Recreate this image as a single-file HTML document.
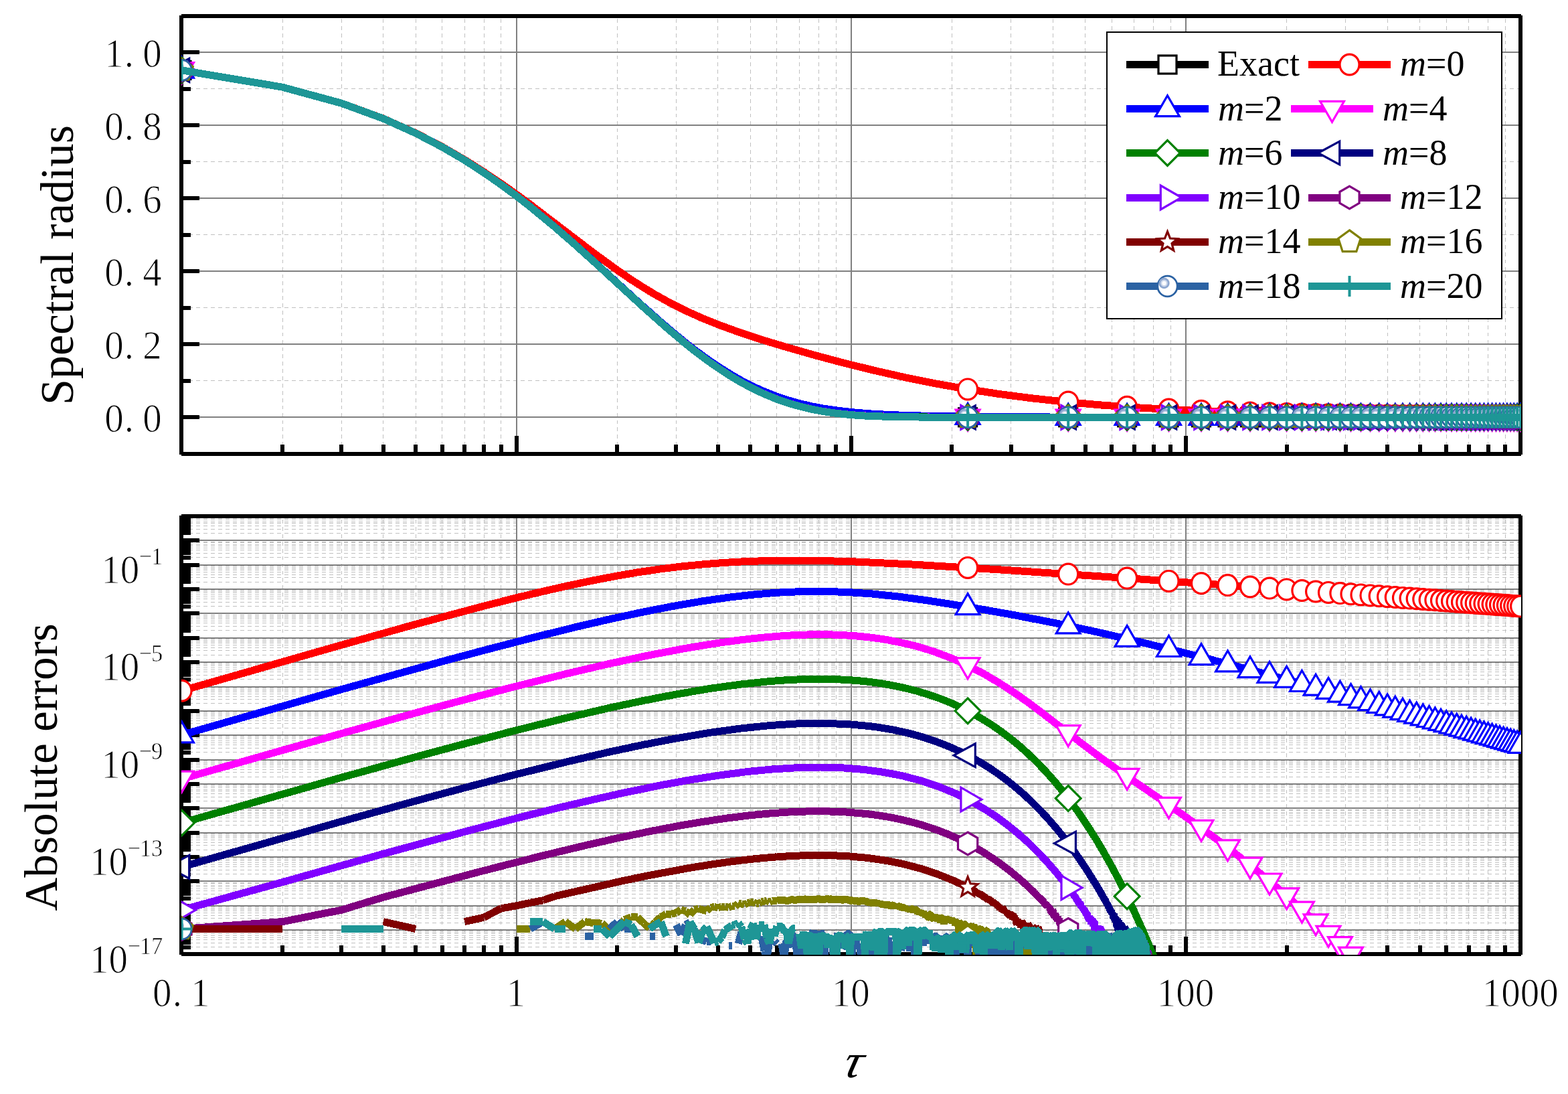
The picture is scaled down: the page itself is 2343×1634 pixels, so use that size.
<!DOCTYPE html>
<html lang="en"><head><meta charset="utf-8"><title>Spectral radius and absolute errors</title>
<style>html,body{margin:0;padding:0;background:#fff}body{width:2343px;height:1634px;overflow:hidden}svg{display:block}text{font-family:"Liberation Serif","DejaVu Serif",serif;fill:#000}.it{font-style:italic}</style></head><body>
<svg width="2343" height="1634" viewBox="0 0 2343 1634">
<rect width="2343" height="1634" fill="#fff"/>
<defs>
<clipPath id="c1"><rect x="271" y="24" width="2002" height="655"/></clipPath>
<clipPath id="c2"><rect x="271" y="771" width="2002" height="655"/></clipPath>
<g id="kex"><rect x="-13.5" y="-13.5" width="27" height="27" fill="#fff" stroke="#000000" stroke-width="3.2" stroke-linejoin="miter"/></g>
<g id="k0"><ellipse rx="14.5" ry="15.4" fill="#fff" stroke="#ff0000" stroke-width="3.2" stroke-linejoin="miter"/></g>
<g id="k2"><path d="M0 -19.8L17.9 11.2L-17.9 11.2Z" fill="#fff" stroke="#0000ff" stroke-width="3.2" stroke-linejoin="miter"/></g>
<g id="k4"><path d="M0 19.8L17.9 -11.2L-17.9 -11.2Z" fill="#fff" stroke="#ff00ff" stroke-width="3.2" stroke-linejoin="miter"/></g>
<g id="k6"><path d="M0 -18.9L18.9 0L0 18.9L-18.9 0Z" fill="#fff" stroke="#008000" stroke-width="3.2" stroke-linejoin="miter"/></g>
<g id="k8"><path d="M-20.8 0L11.2 -17.4L11.2 17.4Z" fill="#fff" stroke="#000080" stroke-width="3.2" stroke-linejoin="miter"/></g>
<g id="k10"><path d="M20.8 0L-10.2 -17.9L-10.2 17.9Z" fill="#fff" stroke="#8000ff" stroke-width="3.2" stroke-linejoin="miter"/></g>
<g id="k12"><path d="M0 -16.9L14.6 -8.4L14.6 8.4L0 16.9L-14.6 8.4L-14.6 -8.5Z" fill="#fff" stroke="#800080" stroke-width="3.2" stroke-linejoin="miter"/></g>
<g id="k14"><path d="M0 -15.6L4 -5.5L14.8 -4.8L6.5 2.1L9.2 12.6L0 6.8L-9.2 12.6L-6.5 2.1L-14.8 -4.8L-4 -5.5Z" fill="#fff" stroke="#800000" stroke-width="3.2" stroke-linejoin="miter"/></g>
<g id="k16"><path d="M0 -17.6L16.7 -5.4L10.3 14.2L-10.3 14.2L-16.7 -5.4Z" fill="#fff" stroke="#808000" stroke-width="3.2" stroke-linejoin="miter"/></g>
<g id="k18"><ellipse rx="14.7" ry="15.4" fill="#fff" stroke="#2b62a3" stroke-width="2.8"/><circle cx="-5" cy="-4.5" r="8.2" fill="#8da7d0"/><circle cx="-5" cy="-4.5" r="5.4" fill="#c9d5ea"/><circle cx="-5" cy="-4.5" r="3.2" fill="#fbfcfe"/></g>
<g id="k20"><path d="M-15.5 0H15.5M0 -15.5V15.5" fill="none" stroke="#1e9696" stroke-width="4"/></g>
</defs>
<g shape-rendering="crispEdges"><path d="M422.5 676.8V24M510.5 676.8V24M572.5 676.8V24M621.5 676.8V24M660.5 676.8V24M694.5 676.8V24M723.5 676.8V24M748.5 676.8V24M922.5 676.8V24M1010.5 676.8V24M1072.5 676.8V24M1121.5 676.8V24M1160.5 676.8V24M1194.5 676.8V24M1223.5 676.8V24M1249.5 676.8V24M1422.5 676.8V24M1510.5 676.8V24M1573.5 676.8V24M1621.5 676.8V24M1661.5 676.8V24M1694.5 676.8V24M1723.5 676.8V24M1749.5 676.8V24M1922.5 676.8V24M2010.5 676.8V24M2073.5 676.8V24M2121.5 676.8V24M2161.5 676.8V24M2194.5 676.8V24M2223.5 676.8V24M2249.5 676.8V24" stroke="#c0c0c0" stroke-width="1" stroke-dasharray="5.7 5.2" fill="none"/><path d="M271 568.5H2272M271 459.5H2272M271 350.5H2272M271 241.5H2272M271 132.5H2272" stroke="#c0c0c0" stroke-width="1" stroke-dasharray="6 5.03" fill="none"/><path d="M772 24V678M1272 24V678M1772 24V678M271 623H2272M271 514H2272M271 405H2272M271 296H2272M271 187H2272M271 78H2272" stroke="#808080" stroke-width="2" fill="none"/></g>
<path d="M271.0 24.0H2273.0M271.0 678.0H2273.0M271.0 23.0V679.0M2272.0 23.0V679.0M422 678v-14M510 678v-14M573 678v-14M621 678v-14M661 678v-14M694 678v-14M723 678v-14M749 678v-14M772 678v-27M922 678v-14M1010 678v-14M1073 678v-14M1121 678v-14M1161 678v-14M1194 678v-14M1223 678v-14M1249 678v-14M1272 678v-27M1422 678v-14M1511 678v-14M1573 678v-14M1622 678v-14M1661 678v-14M1695 678v-14M1724 678v-14M1749 678v-14M1772 678v-27M1923 678v-14M2011 678v-14M2073 678v-14M2122 678v-14M2161 678v-14M2195 678v-14M2224 678v-14M2249 678v-14M271 623h27M271 514h27M271 405h27M271 296h27M271 187h27M271 78h27M271 569h14M271 460h14M271 351h14M271 242h14M271 133h14" stroke="#000" stroke-width="6" fill="none" shape-rendering="crispEdges"/>
<g clip-path="url(#c1)">
<path d="M271.5 104.9L422.1 130.2L510.2 154.2L572.7 177.1L621.1 198.9L660.7 219.6L694.2 239.2L723.2 258L748.8 275.8L771.7 292.7L792.4 308.9L828.7 338.8L859.8 365.9L887 390.4L961.9 459.1L995.4 488.9L1024.4 513.3L1037.5 523.7L1055.9 537.6L1072.9 549.5L1093.6 562.9L1107.9 571.3L1125.6 580.7L1142 588.5L1160.9 596.2L1178.3 602.2L1197.5 607.6L1212.3 611.1L1228.8 614.3L1246.6 616.9L1263 618.8L1280.4 620.3L1300.4 621.5L1348.1 622.9L1442.2 623.3L2272.3 623.3" fill="none" stroke="#000000" stroke-width="11" stroke-linejoin="round" shape-rendering="crispEdges"/>
<use href="#kex" x="271.5" y="104.9"/>
<use href="#kex" x="1446.1" y="623.3"/>
<use href="#kex" x="1596.2" y="623.3"/>
<use href="#kex" x="1684.1" y="623.3"/>
<use href="#kex" x="1746.5" y="623.3"/>
<use href="#kex" x="1795" y="623.3"/>
<use href="#kex" x="1834.5" y="623.3"/>
<use href="#kex" x="1868" y="623.3"/>
<use href="#kex" x="1897" y="623.3"/>
<use href="#kex" x="1922.6" y="623.3"/>
<use href="#kex" x="1945.4" y="623.3"/>
<use href="#kex" x="1966.1" y="623.3"/>
<use href="#kex" x="1985" y="623.3"/>
<use href="#kex" x="2002.4" y="623.3"/>
<use href="#kex" x="2018.5" y="623.3"/>
<use href="#kex" x="2033.5" y="623.3"/>
<use href="#kex" x="2047.5" y="623.3"/>
<use href="#kex" x="2060.7" y="623.3"/>
<use href="#kex" x="2073.1" y="623.3"/>
<use href="#kex" x="2084.8" y="623.3"/>
<use href="#kex" x="2096" y="623.3"/>
<use href="#kex" x="2106.6" y="623.3"/>
<use href="#kex" x="2116.7" y="623.3"/>
<use href="#kex" x="2126.3" y="623.3"/>
<use href="#kex" x="2135.6" y="623.3"/>
<use href="#kex" x="2144.4" y="623.3"/>
<use href="#kex" x="2153" y="623.3"/>
<use href="#kex" x="2161.2" y="623.3"/>
<use href="#kex" x="2169" y="623.3"/>
<use href="#kex" x="2176.7" y="623.3"/>
<use href="#kex" x="2184" y="623.3"/>
<use href="#kex" x="2191.2" y="623.3"/>
<use href="#kex" x="2198.1" y="623.3"/>
<use href="#kex" x="2204.7" y="623.3"/>
<use href="#kex" x="2211.2" y="623.3"/>
<use href="#kex" x="2217.5" y="623.3"/>
<use href="#kex" x="2223.6" y="623.3"/>
<use href="#kex" x="2229.6" y="623.3"/>
<use href="#kex" x="2235.4" y="623.3"/>
<use href="#kex" x="2241" y="623.3"/>
<use href="#kex" x="2246.5" y="623.3"/>
<use href="#kex" x="2251.9" y="623.3"/>
<use href="#kex" x="2257.1" y="623.3"/>
<use href="#kex" x="2262.2" y="623.3"/>
<use href="#kex" x="2267.2" y="623.3"/>
<use href="#kex" x="2272.1" y="623.3"/>
<path d="M271.5 104.9L422.1 130.2L510.2 154.2L572.7 177L621.1 198.7L660.7 219.2L694.2 238.6L723.2 256.9L748.8 274.1L771.7 290.3L792.4 305.5L887 377.7L922.3 403.4L943 417.6L961.9 429.7L979.3 440.2L1003 453.3L1024.4 464L1050 475.5L1072.9 484.7L1103.2 495.8L1138 507.3L1175 518.5L1215.1 529.9L1258.5 541.5L1307.9 553.7L1354.1 564.1L1399.6 573.2L1445.1 581.2L1492.4 588.4L1540.9 594.7L1591.3 600.2L1644.2 604.9L1699.5 608.8L1758.7 612.1L1822.8 614.9L1892.9 617.2L1969.9 619L2056.7 620.4L2155.8 621.4L2272.3 622.2" fill="none" stroke="#ff0000" stroke-width="11" stroke-linejoin="round" shape-rendering="crispEdges"/>
<use href="#k0" x="271.5" y="104.9"/>
<use href="#k0" x="1446.1" y="581.4"/>
<use href="#k0" x="1596.2" y="600.6"/>
<use href="#k0" x="1684.1" y="607.8"/>
<use href="#k0" x="1746.5" y="611.5"/>
<use href="#k0" x="1795" y="613.8"/>
<use href="#k0" x="1834.5" y="615.3"/>
<use href="#k0" x="1868" y="616.4"/>
<use href="#k0" x="1897" y="617.3"/>
<use href="#k0" x="1922.6" y="617.9"/>
<use href="#k0" x="1945.4" y="618.5"/>
<use href="#k0" x="1966.1" y="618.9"/>
<use href="#k0" x="1985" y="619.3"/>
<use href="#k0" x="2002.4" y="619.6"/>
<use href="#k0" x="2018.5" y="619.8"/>
<use href="#k0" x="2033.5" y="620.1"/>
<use href="#k0" x="2047.5" y="620.3"/>
<use href="#k0" x="2060.7" y="620.4"/>
<use href="#k0" x="2073.1" y="620.6"/>
<use href="#k0" x="2084.8" y="620.7"/>
<use href="#k0" x="2096" y="620.9"/>
<use href="#k0" x="2106.6" y="621"/>
<use href="#k0" x="2116.7" y="621.1"/>
<use href="#k0" x="2126.3" y="621.2"/>
<use href="#k0" x="2135.6" y="621.3"/>
<use href="#k0" x="2144.4" y="621.3"/>
<use href="#k0" x="2153" y="621.4"/>
<use href="#k0" x="2161.2" y="621.5"/>
<use href="#k0" x="2169" y="621.6"/>
<use href="#k0" x="2176.7" y="621.6"/>
<use href="#k0" x="2184" y="621.7"/>
<use href="#k0" x="2191.2" y="621.7"/>
<use href="#k0" x="2198.1" y="621.8"/>
<use href="#k0" x="2204.7" y="621.8"/>
<use href="#k0" x="2211.2" y="621.9"/>
<use href="#k0" x="2217.5" y="621.9"/>
<use href="#k0" x="2223.6" y="621.9"/>
<use href="#k0" x="2229.6" y="622"/>
<use href="#k0" x="2235.4" y="622"/>
<use href="#k0" x="2241" y="622"/>
<use href="#k0" x="2246.5" y="622.1"/>
<use href="#k0" x="2251.9" y="622.1"/>
<use href="#k0" x="2257.1" y="622.1"/>
<use href="#k0" x="2262.2" y="622.2"/>
<use href="#k0" x="2267.2" y="622.2"/>
<use href="#k0" x="2272.1" y="622.2"/>
<path d="M271.5 104.9L422.1 130.2L510.2 154.2L572.7 177.1L621.1 198.9L660.7 219.5L694.2 239.2L723.2 258L748.8 275.8L771.7 292.7L792.4 308.8L828.7 338.7L859.8 365.7L887 390.1L952.6 450.2L987.5 481.1L1003 494.4L1024.4 511.9L1037.5 522.2L1055.9 535.7L1072.9 547.3L1093.6 560.3L1107.9 568.4L1125.6 577.5L1142 584.8L1160.9 592.2L1178.3 598L1194.4 602.5L1212.3 606.7L1231.4 610.3L1253.8 613.5L1276.2 616L1300.4 617.9L1327.2 619.4L1358.5 620.6L1397.2 621.5L1484.4 622.6L1606.7 623.2L2272.3 623.3" fill="none" stroke="#0000ff" stroke-width="11" stroke-linejoin="round" shape-rendering="crispEdges"/>
<use href="#k2" x="271.5" y="104.9"/>
<use href="#k2" x="1446.1" y="622.3"/>
<use href="#k2" x="1596.2" y="623.1"/>
<use href="#k2" x="1684.1" y="623.3"/>
<use href="#k2" x="1746.5" y="623.3"/>
<use href="#k2" x="1795" y="623.3"/>
<use href="#k2" x="1834.5" y="623.3"/>
<use href="#k2" x="1868" y="623.3"/>
<use href="#k2" x="1897" y="623.3"/>
<use href="#k2" x="1922.6" y="623.3"/>
<use href="#k2" x="1945.4" y="623.3"/>
<use href="#k2" x="1966.1" y="623.3"/>
<use href="#k2" x="1985" y="623.3"/>
<use href="#k2" x="2002.4" y="623.3"/>
<use href="#k2" x="2018.5" y="623.3"/>
<use href="#k2" x="2033.5" y="623.3"/>
<use href="#k2" x="2047.5" y="623.3"/>
<use href="#k2" x="2060.7" y="623.3"/>
<use href="#k2" x="2073.1" y="623.3"/>
<use href="#k2" x="2084.8" y="623.3"/>
<use href="#k2" x="2096" y="623.3"/>
<use href="#k2" x="2106.6" y="623.3"/>
<use href="#k2" x="2116.7" y="623.3"/>
<use href="#k2" x="2126.3" y="623.3"/>
<use href="#k2" x="2135.6" y="623.3"/>
<use href="#k2" x="2144.4" y="623.3"/>
<use href="#k2" x="2153" y="623.3"/>
<use href="#k2" x="2161.2" y="623.3"/>
<use href="#k2" x="2169" y="623.3"/>
<use href="#k2" x="2176.7" y="623.3"/>
<use href="#k2" x="2184" y="623.3"/>
<use href="#k2" x="2191.2" y="623.3"/>
<use href="#k2" x="2198.1" y="623.3"/>
<use href="#k2" x="2204.7" y="623.3"/>
<use href="#k2" x="2211.2" y="623.3"/>
<use href="#k2" x="2217.5" y="623.3"/>
<use href="#k2" x="2223.6" y="623.3"/>
<use href="#k2" x="2229.6" y="623.3"/>
<use href="#k2" x="2235.4" y="623.3"/>
<use href="#k2" x="2241" y="623.3"/>
<use href="#k2" x="2246.5" y="623.3"/>
<use href="#k2" x="2251.9" y="623.3"/>
<use href="#k2" x="2257.1" y="623.3"/>
<use href="#k2" x="2262.2" y="623.3"/>
<use href="#k2" x="2267.2" y="623.3"/>
<use href="#k2" x="2272.1" y="623.3"/>
<path d="M271.5 104.9L422.1 130.2L510.2 154.2L572.7 177.1L621.1 198.9L660.7 219.6L694.2 239.2L723.2 258L748.8 275.8L771.7 292.7L792.4 308.9L828.7 338.8L859.8 365.9L887 390.4L961.9 459.1L995.4 488.9L1024.4 513.2L1037.5 523.7L1055.9 537.6L1072.9 549.5L1093.6 562.9L1107.9 571.3L1125.6 580.7L1142 588.4L1160.9 596.1L1178.3 602.1L1197.5 607.6L1212.3 611L1228.8 614.2L1246.6 616.9L1263 618.7L1282.5 620.4L1302.3 621.5L1349.6 622.8L1447.1 623.3L2272.3 623.3" fill="none" stroke="#ff00ff" stroke-width="11" stroke-linejoin="round" shape-rendering="crispEdges"/>
<use href="#k4" x="271.5" y="104.9"/>
<use href="#k4" x="1446.1" y="623.3"/>
<use href="#k4" x="1596.2" y="623.3"/>
<use href="#k4" x="1684.1" y="623.3"/>
<use href="#k4" x="1746.5" y="623.3"/>
<use href="#k4" x="1795" y="623.3"/>
<use href="#k4" x="1834.5" y="623.3"/>
<use href="#k4" x="1868" y="623.3"/>
<use href="#k4" x="1897" y="623.3"/>
<use href="#k4" x="1922.6" y="623.3"/>
<use href="#k4" x="1945.4" y="623.3"/>
<use href="#k4" x="1966.1" y="623.3"/>
<use href="#k4" x="1985" y="623.3"/>
<use href="#k4" x="2002.4" y="623.3"/>
<use href="#k4" x="2018.5" y="623.3"/>
<use href="#k4" x="2033.5" y="623.3"/>
<use href="#k4" x="2047.5" y="623.3"/>
<use href="#k4" x="2060.7" y="623.3"/>
<use href="#k4" x="2073.1" y="623.3"/>
<use href="#k4" x="2084.8" y="623.3"/>
<use href="#k4" x="2096" y="623.3"/>
<use href="#k4" x="2106.6" y="623.3"/>
<use href="#k4" x="2116.7" y="623.3"/>
<use href="#k4" x="2126.3" y="623.3"/>
<use href="#k4" x="2135.6" y="623.3"/>
<use href="#k4" x="2144.4" y="623.3"/>
<use href="#k4" x="2153" y="623.3"/>
<use href="#k4" x="2161.2" y="623.3"/>
<use href="#k4" x="2169" y="623.3"/>
<use href="#k4" x="2176.7" y="623.3"/>
<use href="#k4" x="2184" y="623.3"/>
<use href="#k4" x="2191.2" y="623.3"/>
<use href="#k4" x="2198.1" y="623.3"/>
<use href="#k4" x="2204.7" y="623.3"/>
<use href="#k4" x="2211.2" y="623.3"/>
<use href="#k4" x="2217.5" y="623.3"/>
<use href="#k4" x="2223.6" y="623.3"/>
<use href="#k4" x="2229.6" y="623.3"/>
<use href="#k4" x="2235.4" y="623.3"/>
<use href="#k4" x="2241" y="623.3"/>
<use href="#k4" x="2246.5" y="623.3"/>
<use href="#k4" x="2251.9" y="623.3"/>
<use href="#k4" x="2257.1" y="623.3"/>
<use href="#k4" x="2262.2" y="623.3"/>
<use href="#k4" x="2267.2" y="623.3"/>
<use href="#k4" x="2272.1" y="623.3"/>
<path d="M271.5 104.9L422.1 130.2L510.2 154.2L572.7 177.1L621.1 198.9L660.7 219.6L694.2 239.2L723.2 258L748.8 275.8L771.7 292.7L792.4 308.9L828.7 338.8L859.8 365.9L887 390.4L961.9 459.1L995.4 488.9L1024.4 513.3L1037.5 523.7L1055.9 537.6L1072.9 549.5L1093.6 562.9L1107.9 571.3L1125.6 580.7L1142 588.5L1160.9 596.2L1178.3 602.2L1197.5 607.6L1212.3 611.1L1228.8 614.3L1246.6 616.9L1263 618.8L1280.4 620.3L1300.4 621.5L1348.1 622.8L1442.2 623.3L2272.3 623.3" fill="none" stroke="#008000" stroke-width="11" stroke-linejoin="round" shape-rendering="crispEdges"/>
<use href="#k6" x="271.5" y="104.9"/>
<use href="#k6" x="1446.1" y="623.3"/>
<use href="#k6" x="1596.2" y="623.3"/>
<use href="#k6" x="1684.1" y="623.3"/>
<use href="#k6" x="1746.5" y="623.3"/>
<use href="#k6" x="1795" y="623.3"/>
<use href="#k6" x="1834.5" y="623.3"/>
<use href="#k6" x="1868" y="623.3"/>
<use href="#k6" x="1897" y="623.3"/>
<use href="#k6" x="1922.6" y="623.3"/>
<use href="#k6" x="1945.4" y="623.3"/>
<use href="#k6" x="1966.1" y="623.3"/>
<use href="#k6" x="1985" y="623.3"/>
<use href="#k6" x="2002.4" y="623.3"/>
<use href="#k6" x="2018.5" y="623.3"/>
<use href="#k6" x="2033.5" y="623.3"/>
<use href="#k6" x="2047.5" y="623.3"/>
<use href="#k6" x="2060.7" y="623.3"/>
<use href="#k6" x="2073.1" y="623.3"/>
<use href="#k6" x="2084.8" y="623.3"/>
<use href="#k6" x="2096" y="623.3"/>
<use href="#k6" x="2106.6" y="623.3"/>
<use href="#k6" x="2116.7" y="623.3"/>
<use href="#k6" x="2126.3" y="623.3"/>
<use href="#k6" x="2135.6" y="623.3"/>
<use href="#k6" x="2144.4" y="623.3"/>
<use href="#k6" x="2153" y="623.3"/>
<use href="#k6" x="2161.2" y="623.3"/>
<use href="#k6" x="2169" y="623.3"/>
<use href="#k6" x="2176.7" y="623.3"/>
<use href="#k6" x="2184" y="623.3"/>
<use href="#k6" x="2191.2" y="623.3"/>
<use href="#k6" x="2198.1" y="623.3"/>
<use href="#k6" x="2204.7" y="623.3"/>
<use href="#k6" x="2211.2" y="623.3"/>
<use href="#k6" x="2217.5" y="623.3"/>
<use href="#k6" x="2223.6" y="623.3"/>
<use href="#k6" x="2229.6" y="623.3"/>
<use href="#k6" x="2235.4" y="623.3"/>
<use href="#k6" x="2241" y="623.3"/>
<use href="#k6" x="2246.5" y="623.3"/>
<use href="#k6" x="2251.9" y="623.3"/>
<use href="#k6" x="2257.1" y="623.3"/>
<use href="#k6" x="2262.2" y="623.3"/>
<use href="#k6" x="2267.2" y="623.3"/>
<use href="#k6" x="2272.1" y="623.3"/>
<path d="M271.5 104.9L422.1 130.2L510.2 154.2L572.7 177.1L621.1 198.9L660.7 219.6L694.2 239.2L723.2 258L748.8 275.8L771.7 292.7L792.4 308.9L828.7 338.8L859.8 365.9L887 390.4L961.9 459.1L995.4 488.9L1024.4 513.3L1037.5 523.7L1055.9 537.6L1072.9 549.5L1093.6 562.9L1107.9 571.3L1125.6 580.7L1142 588.5L1160.9 596.2L1178.3 602.2L1197.5 607.6L1212.3 611.1L1228.8 614.3L1246.6 616.9L1263 618.8L1280.4 620.3L1300.4 621.5L1348.1 622.9L1442.2 623.3L2272.3 623.3" fill="none" stroke="#000080" stroke-width="11" stroke-linejoin="round" shape-rendering="crispEdges"/>
<use href="#k8" x="271.5" y="104.9"/>
<use href="#k8" x="1446.1" y="623.3"/>
<use href="#k8" x="1596.2" y="623.3"/>
<use href="#k8" x="1684.1" y="623.3"/>
<use href="#k8" x="1746.5" y="623.3"/>
<use href="#k8" x="1795" y="623.3"/>
<use href="#k8" x="1834.5" y="623.3"/>
<use href="#k8" x="1868" y="623.3"/>
<use href="#k8" x="1897" y="623.3"/>
<use href="#k8" x="1922.6" y="623.3"/>
<use href="#k8" x="1945.4" y="623.3"/>
<use href="#k8" x="1966.1" y="623.3"/>
<use href="#k8" x="1985" y="623.3"/>
<use href="#k8" x="2002.4" y="623.3"/>
<use href="#k8" x="2018.5" y="623.3"/>
<use href="#k8" x="2033.5" y="623.3"/>
<use href="#k8" x="2047.5" y="623.3"/>
<use href="#k8" x="2060.7" y="623.3"/>
<use href="#k8" x="2073.1" y="623.3"/>
<use href="#k8" x="2084.8" y="623.3"/>
<use href="#k8" x="2096" y="623.3"/>
<use href="#k8" x="2106.6" y="623.3"/>
<use href="#k8" x="2116.7" y="623.3"/>
<use href="#k8" x="2126.3" y="623.3"/>
<use href="#k8" x="2135.6" y="623.3"/>
<use href="#k8" x="2144.4" y="623.3"/>
<use href="#k8" x="2153" y="623.3"/>
<use href="#k8" x="2161.2" y="623.3"/>
<use href="#k8" x="2169" y="623.3"/>
<use href="#k8" x="2176.7" y="623.3"/>
<use href="#k8" x="2184" y="623.3"/>
<use href="#k8" x="2191.2" y="623.3"/>
<use href="#k8" x="2198.1" y="623.3"/>
<use href="#k8" x="2204.7" y="623.3"/>
<use href="#k8" x="2211.2" y="623.3"/>
<use href="#k8" x="2217.5" y="623.3"/>
<use href="#k8" x="2223.6" y="623.3"/>
<use href="#k8" x="2229.6" y="623.3"/>
<use href="#k8" x="2235.4" y="623.3"/>
<use href="#k8" x="2241" y="623.3"/>
<use href="#k8" x="2246.5" y="623.3"/>
<use href="#k8" x="2251.9" y="623.3"/>
<use href="#k8" x="2257.1" y="623.3"/>
<use href="#k8" x="2262.2" y="623.3"/>
<use href="#k8" x="2267.2" y="623.3"/>
<use href="#k8" x="2272.1" y="623.3"/>
<path d="M271.5 104.9L422.1 130.2L510.2 154.2L572.7 177.1L621.1 198.9L660.7 219.6L694.2 239.2L723.2 258L748.8 275.8L771.7 292.7L792.4 308.9L828.7 338.8L859.8 365.9L887 390.4L961.9 459.1L995.4 488.9L1024.4 513.3L1037.5 523.7L1055.9 537.6L1072.9 549.5L1093.6 562.9L1107.9 571.3L1125.6 580.7L1142 588.5L1160.9 596.2L1178.3 602.2L1197.5 607.6L1212.3 611.1L1228.8 614.3L1246.6 616.9L1263 618.8L1280.4 620.3L1300.4 621.5L1348.1 622.9L1442.2 623.3L2272.3 623.3" fill="none" stroke="#8000ff" stroke-width="11" stroke-linejoin="round" shape-rendering="crispEdges"/>
<use href="#k10" x="271.5" y="104.9"/>
<use href="#k10" x="1446.1" y="623.3"/>
<use href="#k10" x="1596.2" y="623.3"/>
<use href="#k10" x="1684.1" y="623.3"/>
<use href="#k10" x="1746.5" y="623.3"/>
<use href="#k10" x="1795" y="623.3"/>
<use href="#k10" x="1834.5" y="623.3"/>
<use href="#k10" x="1868" y="623.3"/>
<use href="#k10" x="1897" y="623.3"/>
<use href="#k10" x="1922.6" y="623.3"/>
<use href="#k10" x="1945.4" y="623.3"/>
<use href="#k10" x="1966.1" y="623.3"/>
<use href="#k10" x="1985" y="623.3"/>
<use href="#k10" x="2002.4" y="623.3"/>
<use href="#k10" x="2018.5" y="623.3"/>
<use href="#k10" x="2033.5" y="623.3"/>
<use href="#k10" x="2047.5" y="623.3"/>
<use href="#k10" x="2060.7" y="623.3"/>
<use href="#k10" x="2073.1" y="623.3"/>
<use href="#k10" x="2084.8" y="623.3"/>
<use href="#k10" x="2096" y="623.3"/>
<use href="#k10" x="2106.6" y="623.3"/>
<use href="#k10" x="2116.7" y="623.3"/>
<use href="#k10" x="2126.3" y="623.3"/>
<use href="#k10" x="2135.6" y="623.3"/>
<use href="#k10" x="2144.4" y="623.3"/>
<use href="#k10" x="2153" y="623.3"/>
<use href="#k10" x="2161.2" y="623.3"/>
<use href="#k10" x="2169" y="623.3"/>
<use href="#k10" x="2176.7" y="623.3"/>
<use href="#k10" x="2184" y="623.3"/>
<use href="#k10" x="2191.2" y="623.3"/>
<use href="#k10" x="2198.1" y="623.3"/>
<use href="#k10" x="2204.7" y="623.3"/>
<use href="#k10" x="2211.2" y="623.3"/>
<use href="#k10" x="2217.5" y="623.3"/>
<use href="#k10" x="2223.6" y="623.3"/>
<use href="#k10" x="2229.6" y="623.3"/>
<use href="#k10" x="2235.4" y="623.3"/>
<use href="#k10" x="2241" y="623.3"/>
<use href="#k10" x="2246.5" y="623.3"/>
<use href="#k10" x="2251.9" y="623.3"/>
<use href="#k10" x="2257.1" y="623.3"/>
<use href="#k10" x="2262.2" y="623.3"/>
<use href="#k10" x="2267.2" y="623.3"/>
<use href="#k10" x="2272.1" y="623.3"/>
<path d="M271.5 104.9L422.1 130.2L510.2 154.2L572.7 177.1L621.1 198.9L660.7 219.6L694.2 239.2L723.2 258L748.8 275.8L771.7 292.7L792.4 308.9L828.7 338.8L859.8 365.9L887 390.4L961.9 459.1L995.4 488.9L1024.4 513.3L1037.5 523.7L1055.9 537.6L1072.9 549.5L1093.6 562.9L1107.9 571.3L1125.6 580.7L1142 588.5L1160.9 596.2L1178.3 602.2L1197.5 607.6L1212.3 611.1L1228.8 614.3L1246.6 616.9L1263 618.8L1280.4 620.3L1300.4 621.5L1348.1 622.9L1442.2 623.3L2272.3 623.3" fill="none" stroke="#800080" stroke-width="11" stroke-linejoin="round" shape-rendering="crispEdges"/>
<use href="#k12" x="271.5" y="104.9"/>
<use href="#k12" x="1446.1" y="623.3"/>
<use href="#k12" x="1596.2" y="623.3"/>
<use href="#k12" x="1684.1" y="623.3"/>
<use href="#k12" x="1746.5" y="623.3"/>
<use href="#k12" x="1795" y="623.3"/>
<use href="#k12" x="1834.5" y="623.3"/>
<use href="#k12" x="1868" y="623.3"/>
<use href="#k12" x="1897" y="623.3"/>
<use href="#k12" x="1922.6" y="623.3"/>
<use href="#k12" x="1945.4" y="623.3"/>
<use href="#k12" x="1966.1" y="623.3"/>
<use href="#k12" x="1985" y="623.3"/>
<use href="#k12" x="2002.4" y="623.3"/>
<use href="#k12" x="2018.5" y="623.3"/>
<use href="#k12" x="2033.5" y="623.3"/>
<use href="#k12" x="2047.5" y="623.3"/>
<use href="#k12" x="2060.7" y="623.3"/>
<use href="#k12" x="2073.1" y="623.3"/>
<use href="#k12" x="2084.8" y="623.3"/>
<use href="#k12" x="2096" y="623.3"/>
<use href="#k12" x="2106.6" y="623.3"/>
<use href="#k12" x="2116.7" y="623.3"/>
<use href="#k12" x="2126.3" y="623.3"/>
<use href="#k12" x="2135.6" y="623.3"/>
<use href="#k12" x="2144.4" y="623.3"/>
<use href="#k12" x="2153" y="623.3"/>
<use href="#k12" x="2161.2" y="623.3"/>
<use href="#k12" x="2169" y="623.3"/>
<use href="#k12" x="2176.7" y="623.3"/>
<use href="#k12" x="2184" y="623.3"/>
<use href="#k12" x="2191.2" y="623.3"/>
<use href="#k12" x="2198.1" y="623.3"/>
<use href="#k12" x="2204.7" y="623.3"/>
<use href="#k12" x="2211.2" y="623.3"/>
<use href="#k12" x="2217.5" y="623.3"/>
<use href="#k12" x="2223.6" y="623.3"/>
<use href="#k12" x="2229.6" y="623.3"/>
<use href="#k12" x="2235.4" y="623.3"/>
<use href="#k12" x="2241" y="623.3"/>
<use href="#k12" x="2246.5" y="623.3"/>
<use href="#k12" x="2251.9" y="623.3"/>
<use href="#k12" x="2257.1" y="623.3"/>
<use href="#k12" x="2262.2" y="623.3"/>
<use href="#k12" x="2267.2" y="623.3"/>
<use href="#k12" x="2272.1" y="623.3"/>
<path d="M271.5 104.9L422.1 130.2L510.2 154.2L572.7 177.1L621.1 198.9L660.7 219.6L694.2 239.2L723.2 258L748.8 275.8L771.7 292.7L792.4 308.9L828.7 338.8L859.8 365.9L887 390.4L961.9 459.1L995.4 488.9L1024.4 513.3L1037.5 523.7L1055.9 537.6L1072.9 549.5L1093.6 562.9L1107.9 571.3L1125.6 580.7L1142 588.5L1160.9 596.2L1178.3 602.2L1197.5 607.6L1212.3 611.1L1228.8 614.3L1246.6 616.9L1263 618.8L1280.4 620.3L1300.4 621.5L1348.1 622.9L1442.2 623.3L2272.3 623.3" fill="none" stroke="#800000" stroke-width="11" stroke-linejoin="round" shape-rendering="crispEdges"/>
<use href="#k14" x="271.5" y="104.9"/>
<use href="#k14" x="1446.1" y="623.3"/>
<use href="#k14" x="1596.2" y="623.3"/>
<use href="#k14" x="1684.1" y="623.3"/>
<use href="#k14" x="1746.5" y="623.3"/>
<use href="#k14" x="1795" y="623.3"/>
<use href="#k14" x="1834.5" y="623.3"/>
<use href="#k14" x="1868" y="623.3"/>
<use href="#k14" x="1897" y="623.3"/>
<use href="#k14" x="1922.6" y="623.3"/>
<use href="#k14" x="1945.4" y="623.3"/>
<use href="#k14" x="1966.1" y="623.3"/>
<use href="#k14" x="1985" y="623.3"/>
<use href="#k14" x="2002.4" y="623.3"/>
<use href="#k14" x="2018.5" y="623.3"/>
<use href="#k14" x="2033.5" y="623.3"/>
<use href="#k14" x="2047.5" y="623.3"/>
<use href="#k14" x="2060.7" y="623.3"/>
<use href="#k14" x="2073.1" y="623.3"/>
<use href="#k14" x="2084.8" y="623.3"/>
<use href="#k14" x="2096" y="623.3"/>
<use href="#k14" x="2106.6" y="623.3"/>
<use href="#k14" x="2116.7" y="623.3"/>
<use href="#k14" x="2126.3" y="623.3"/>
<use href="#k14" x="2135.6" y="623.3"/>
<use href="#k14" x="2144.4" y="623.3"/>
<use href="#k14" x="2153" y="623.3"/>
<use href="#k14" x="2161.2" y="623.3"/>
<use href="#k14" x="2169" y="623.3"/>
<use href="#k14" x="2176.7" y="623.3"/>
<use href="#k14" x="2184" y="623.3"/>
<use href="#k14" x="2191.2" y="623.3"/>
<use href="#k14" x="2198.1" y="623.3"/>
<use href="#k14" x="2204.7" y="623.3"/>
<use href="#k14" x="2211.2" y="623.3"/>
<use href="#k14" x="2217.5" y="623.3"/>
<use href="#k14" x="2223.6" y="623.3"/>
<use href="#k14" x="2229.6" y="623.3"/>
<use href="#k14" x="2235.4" y="623.3"/>
<use href="#k14" x="2241" y="623.3"/>
<use href="#k14" x="2246.5" y="623.3"/>
<use href="#k14" x="2251.9" y="623.3"/>
<use href="#k14" x="2257.1" y="623.3"/>
<use href="#k14" x="2262.2" y="623.3"/>
<use href="#k14" x="2267.2" y="623.3"/>
<use href="#k14" x="2272.1" y="623.3"/>
<path d="M271.5 104.9L422.1 130.2L510.2 154.2L572.7 177.1L621.1 198.9L660.7 219.6L694.2 239.2L723.2 258L748.8 275.8L771.7 292.7L792.4 308.9L828.7 338.8L859.8 365.9L887 390.4L961.9 459.1L995.4 488.9L1024.4 513.3L1037.5 523.7L1055.9 537.6L1072.9 549.5L1093.6 562.9L1107.9 571.3L1125.6 580.7L1142 588.5L1160.9 596.2L1178.3 602.2L1197.5 607.6L1212.3 611.1L1228.8 614.3L1246.6 616.9L1263 618.8L1280.4 620.3L1300.4 621.5L1348.1 622.9L1442.2 623.3L2272.3 623.3" fill="none" stroke="#808000" stroke-width="11" stroke-linejoin="round" shape-rendering="crispEdges"/>
<use href="#k16" x="271.5" y="104.9"/>
<use href="#k16" x="1446.1" y="623.3"/>
<use href="#k16" x="1596.2" y="623.3"/>
<use href="#k16" x="1684.1" y="623.3"/>
<use href="#k16" x="1746.5" y="623.3"/>
<use href="#k16" x="1795" y="623.3"/>
<use href="#k16" x="1834.5" y="623.3"/>
<use href="#k16" x="1868" y="623.3"/>
<use href="#k16" x="1897" y="623.3"/>
<use href="#k16" x="1922.6" y="623.3"/>
<use href="#k16" x="1945.4" y="623.3"/>
<use href="#k16" x="1966.1" y="623.3"/>
<use href="#k16" x="1985" y="623.3"/>
<use href="#k16" x="2002.4" y="623.3"/>
<use href="#k16" x="2018.5" y="623.3"/>
<use href="#k16" x="2033.5" y="623.3"/>
<use href="#k16" x="2047.5" y="623.3"/>
<use href="#k16" x="2060.7" y="623.3"/>
<use href="#k16" x="2073.1" y="623.3"/>
<use href="#k16" x="2084.8" y="623.3"/>
<use href="#k16" x="2096" y="623.3"/>
<use href="#k16" x="2106.6" y="623.3"/>
<use href="#k16" x="2116.7" y="623.3"/>
<use href="#k16" x="2126.3" y="623.3"/>
<use href="#k16" x="2135.6" y="623.3"/>
<use href="#k16" x="2144.4" y="623.3"/>
<use href="#k16" x="2153" y="623.3"/>
<use href="#k16" x="2161.2" y="623.3"/>
<use href="#k16" x="2169" y="623.3"/>
<use href="#k16" x="2176.7" y="623.3"/>
<use href="#k16" x="2184" y="623.3"/>
<use href="#k16" x="2191.2" y="623.3"/>
<use href="#k16" x="2198.1" y="623.3"/>
<use href="#k16" x="2204.7" y="623.3"/>
<use href="#k16" x="2211.2" y="623.3"/>
<use href="#k16" x="2217.5" y="623.3"/>
<use href="#k16" x="2223.6" y="623.3"/>
<use href="#k16" x="2229.6" y="623.3"/>
<use href="#k16" x="2235.4" y="623.3"/>
<use href="#k16" x="2241" y="623.3"/>
<use href="#k16" x="2246.5" y="623.3"/>
<use href="#k16" x="2251.9" y="623.3"/>
<use href="#k16" x="2257.1" y="623.3"/>
<use href="#k16" x="2262.2" y="623.3"/>
<use href="#k16" x="2267.2" y="623.3"/>
<use href="#k16" x="2272.1" y="623.3"/>
<path d="M271.5 104.9L422.1 130.2L510.2 154.2L572.7 177.1L621.1 198.9L660.7 219.6L694.2 239.2L723.2 258L748.8 275.8L771.7 292.7L792.4 308.9L828.7 338.8L859.8 365.9L887 390.4L961.9 459.1L995.4 488.9L1024.4 513.3L1037.5 523.7L1055.9 537.6L1072.9 549.5L1093.6 562.9L1107.9 571.3L1125.6 580.7L1142 588.5L1160.9 596.2L1178.3 602.2L1197.5 607.6L1212.3 611.1L1228.8 614.3L1246.6 616.9L1263 618.8L1280.4 620.3L1300.4 621.5L1348.1 622.9L1442.2 623.3L2272.3 623.3" fill="none" stroke="#2b62a3" stroke-width="11" stroke-linejoin="round" shape-rendering="crispEdges"/>
<use href="#k18" x="271.5" y="104.9"/>
<use href="#k18" x="1446.1" y="623.3"/>
<use href="#k18" x="1596.2" y="623.3"/>
<use href="#k18" x="1684.1" y="623.3"/>
<use href="#k18" x="1746.5" y="623.3"/>
<use href="#k18" x="1795" y="623.3"/>
<use href="#k18" x="1834.5" y="623.3"/>
<use href="#k18" x="1868" y="623.3"/>
<use href="#k18" x="1897" y="623.3"/>
<use href="#k18" x="1922.6" y="623.3"/>
<use href="#k18" x="1945.4" y="623.3"/>
<use href="#k18" x="1966.1" y="623.3"/>
<use href="#k18" x="1985" y="623.3"/>
<use href="#k18" x="2002.4" y="623.3"/>
<use href="#k18" x="2018.5" y="623.3"/>
<use href="#k18" x="2033.5" y="623.3"/>
<use href="#k18" x="2047.5" y="623.3"/>
<use href="#k18" x="2060.7" y="623.3"/>
<use href="#k18" x="2073.1" y="623.3"/>
<use href="#k18" x="2084.8" y="623.3"/>
<use href="#k18" x="2096" y="623.3"/>
<use href="#k18" x="2106.6" y="623.3"/>
<use href="#k18" x="2116.7" y="623.3"/>
<use href="#k18" x="2126.3" y="623.3"/>
<use href="#k18" x="2135.6" y="623.3"/>
<use href="#k18" x="2144.4" y="623.3"/>
<use href="#k18" x="2153" y="623.3"/>
<use href="#k18" x="2161.2" y="623.3"/>
<use href="#k18" x="2169" y="623.3"/>
<use href="#k18" x="2176.7" y="623.3"/>
<use href="#k18" x="2184" y="623.3"/>
<use href="#k18" x="2191.2" y="623.3"/>
<use href="#k18" x="2198.1" y="623.3"/>
<use href="#k18" x="2204.7" y="623.3"/>
<use href="#k18" x="2211.2" y="623.3"/>
<use href="#k18" x="2217.5" y="623.3"/>
<use href="#k18" x="2223.6" y="623.3"/>
<use href="#k18" x="2229.6" y="623.3"/>
<use href="#k18" x="2235.4" y="623.3"/>
<use href="#k18" x="2241" y="623.3"/>
<use href="#k18" x="2246.5" y="623.3"/>
<use href="#k18" x="2251.9" y="623.3"/>
<use href="#k18" x="2257.1" y="623.3"/>
<use href="#k18" x="2262.2" y="623.3"/>
<use href="#k18" x="2267.2" y="623.3"/>
<use href="#k18" x="2272.1" y="623.3"/>
<path d="M271.5 104.9L422.1 130.2L510.2 154.2L572.7 177.1L621.1 198.9L660.7 219.6L694.2 239.2L723.2 258L748.8 275.8L771.7 292.7L792.4 308.9L828.7 338.8L859.8 365.9L887 390.4L961.9 459.1L995.4 488.9L1024.4 513.3L1037.5 523.7L1055.9 537.6L1072.9 549.5L1093.6 562.9L1107.9 571.3L1125.6 580.7L1142 588.5L1160.9 596.2L1178.3 602.2L1197.5 607.6L1212.3 611.1L1228.8 614.3L1246.6 616.9L1263 618.8L1280.4 620.3L1300.4 621.5L1348.1 622.9L1442.2 623.3L2272.3 623.3" fill="none" stroke="#1e9696" stroke-width="11" stroke-linejoin="round" shape-rendering="crispEdges"/>
<use href="#k20" x="271.5" y="104.9"/>
<use href="#k20" x="1446.1" y="623.3"/>
<use href="#k20" x="1596.2" y="623.3"/>
<use href="#k20" x="1684.1" y="623.3"/>
<use href="#k20" x="1746.5" y="623.3"/>
<use href="#k20" x="1795" y="623.3"/>
<use href="#k20" x="1834.5" y="623.3"/>
<use href="#k20" x="1868" y="623.3"/>
<use href="#k20" x="1897" y="623.3"/>
<use href="#k20" x="1922.6" y="623.3"/>
<use href="#k20" x="1945.4" y="623.3"/>
<use href="#k20" x="1966.1" y="623.3"/>
<use href="#k20" x="1985" y="623.3"/>
<use href="#k20" x="2002.4" y="623.3"/>
<use href="#k20" x="2018.5" y="623.3"/>
<use href="#k20" x="2033.5" y="623.3"/>
<use href="#k20" x="2047.5" y="623.3"/>
<use href="#k20" x="2060.7" y="623.3"/>
<use href="#k20" x="2073.1" y="623.3"/>
<use href="#k20" x="2084.8" y="623.3"/>
<use href="#k20" x="2096" y="623.3"/>
<use href="#k20" x="2106.6" y="623.3"/>
<use href="#k20" x="2116.7" y="623.3"/>
<use href="#k20" x="2126.3" y="623.3"/>
<use href="#k20" x="2135.6" y="623.3"/>
<use href="#k20" x="2144.4" y="623.3"/>
<use href="#k20" x="2153" y="623.3"/>
<use href="#k20" x="2161.2" y="623.3"/>
<use href="#k20" x="2169" y="623.3"/>
<use href="#k20" x="2176.7" y="623.3"/>
<use href="#k20" x="2184" y="623.3"/>
<use href="#k20" x="2191.2" y="623.3"/>
<use href="#k20" x="2198.1" y="623.3"/>
<use href="#k20" x="2204.7" y="623.3"/>
<use href="#k20" x="2211.2" y="623.3"/>
<use href="#k20" x="2217.5" y="623.3"/>
<use href="#k20" x="2223.6" y="623.3"/>
<use href="#k20" x="2229.6" y="623.3"/>
<use href="#k20" x="2235.4" y="623.3"/>
<use href="#k20" x="2241" y="623.3"/>
<use href="#k20" x="2246.5" y="623.3"/>
<use href="#k20" x="2251.9" y="623.3"/>
<use href="#k20" x="2257.1" y="623.3"/>
<use href="#k20" x="2262.2" y="623.3"/>
<use href="#k20" x="2267.2" y="623.3"/>
<use href="#k20" x="2272.1" y="623.3"/>
</g>
<g shape-rendering="crispEdges"><path d="M422.5 1425V771M510.5 1425V771M572.5 1425V771M621.5 1425V771M660.5 1425V771M694.5 1425V771M723.5 1425V771M748.5 1425V771M922.5 1425V771M1010.5 1425V771M1072.5 1425V771M1121.5 1425V771M1160.5 1425V771M1194.5 1425V771M1223.5 1425V771M1249.5 1425V771M1422.5 1425V771M1510.5 1425V771M1573.5 1425V771M1621.5 1425V771M1661.5 1425V771M1694.5 1425V771M1723.5 1425V771M1749.5 1425V771M1922.5 1425V771M2010.5 1425V771M2073.5 1425V771M2121.5 1425V771M2161.5 1425V771M2194.5 1425V771M2223.5 1425V771M2249.5 1425V771" stroke="#c0c0c0" stroke-width="1" stroke-dasharray="5.7 5.2" fill="none"/><path d="M271 796.5H2272M271 790.5H2272M271 785.5H2272M271 781.5H2272M271 779.5H2272M271 776.5H2272M271 774.5H2272M271 772.5H2272M271 832.5H2272M271 826.5H2272M271 821.5H2272M271 818.5H2272M271 815.5H2272M271 813.5H2272M271 810.5H2272M271 809.5H2272M271 869.5H2272M271 862.5H2272M271 858.5H2272M271 854.5H2272M271 851.5H2272M271 849.5H2272M271 847.5H2272M271 845.5H2272M271 905.5H2272M271 899.5H2272M271 894.5H2272M271 891.5H2272M271 888.5H2272M271 885.5H2272M271 883.5H2272M271 881.5H2272M271 941.5H2272M271 935.5H2272M271 930.5H2272M271 927.5H2272M271 924.5H2272M271 922.5H2272M271 920.5H2272M271 918.5H2272M271 978.5H2272M271 971.5H2272M271 967.5H2272M271 963.5H2272M271 960.5H2272M271 958.5H2272M271 956.5H2272M271 954.5H2272M271 1014.5H2272M271 1008.5H2272M271 1003.5H2272M271 1000.5H2272M271 997.5H2272M271 994.5H2272M271 992.5H2272M271 990.5H2272M271 1050.5H2272M271 1044.5H2272M271 1040.5H2272M271 1036.5H2272M271 1033.5H2272M271 1031.5H2272M271 1029.5H2272M271 1027.5H2272M271 1087.5H2272M271 1080.5H2272M271 1076.5H2272M271 1072.5H2272M271 1069.5H2272M271 1067.5H2272M271 1065.5H2272M271 1063.5H2272M271 1123.5H2272M271 1117.5H2272M271 1112.5H2272M271 1109.5H2272M271 1106.5H2272M271 1103.5H2272M271 1101.5H2272M271 1099.5H2272M271 1160.5H2272M271 1153.5H2272M271 1149.5H2272M271 1145.5H2272M271 1142.5H2272M271 1140.5H2272M271 1138.5H2272M271 1136.5H2272M271 1196.5H2272M271 1190.5H2272M271 1185.5H2272M271 1181.5H2272M271 1179.5H2272M271 1176.5H2272M271 1174.5H2272M271 1172.5H2272M271 1232.5H2272M271 1226.5H2272M271 1221.5H2272M271 1218.5H2272M271 1215.5H2272M271 1213.5H2272M271 1210.5H2272M271 1209.5H2272M271 1269.5H2272M271 1262.5H2272M271 1258.5H2272M271 1254.5H2272M271 1251.5H2272M271 1249.5H2272M271 1247.5H2272M271 1245.5H2272M271 1305.5H2272M271 1299.5H2272M271 1294.5H2272M271 1291.5H2272M271 1288.5H2272M271 1285.5H2272M271 1283.5H2272M271 1281.5H2272M271 1341.5H2272M271 1335.5H2272M271 1330.5H2272M271 1327.5H2272M271 1324.5H2272M271 1322.5H2272M271 1319.5H2272M271 1318.5H2272M271 1378.5H2272M271 1371.5H2272M271 1367.5H2272M271 1363.5H2272M271 1360.5H2272M271 1358.5H2272M271 1356.5H2272M271 1354.5H2272M271 1414.5H2272M271 1408.5H2272M271 1403.5H2272M271 1400.5H2272M271 1397.5H2272M271 1394.5H2272M271 1392.5H2272M271 1390.5H2272" stroke="#c0c0c0" stroke-width="1" stroke-dasharray="6 5.03" fill="none"/><path d="M772 771V1425M1272 771V1425M1772 771V1425M271 807H2272M271 844H2272M271 880H2272M271 916H2272M271 953H2272M271 989H2272M271 1026H2272M271 1062H2272M271 1098H2272M271 1135H2272M271 1171H2272M271 1207H2272M271 1244H2272M271 1280H2272M271 1316H2272M271 1353H2272M271 1389H2272" stroke="#808080" stroke-width="2" fill="none"/></g>
<path d="M271.0 771.0H2273.0M271.0 1425.0H2273.0M271.0 770.0V1426.0M2272.0 770.0V1426.0M422 1425v-13M510 1425v-13M573 1425v-13M621 1425v-13M661 1425v-13M694 1425v-13M723 1425v-13M749 1425v-13M772 1425v-26M922 1425v-13M1010 1425v-13M1073 1425v-13M1121 1425v-13M1161 1425v-13M1194 1425v-13M1223 1425v-13M1249 1425v-13M1272 1425v-26M1422 1425v-13M1511 1425v-13M1573 1425v-13M1622 1425v-13M1661 1425v-13M1695 1425v-13M1724 1425v-13M1749 1425v-13M1772 1425v-26M1923 1425v-13M2011 1425v-13M2073 1425v-13M2122 1425v-13M2161 1425v-13M2195 1425v-13M2224 1425v-13M2249 1425v-13M271 807h27M271 844h27M271 880h27M271 916h27M271 953h27M271 989h27M271 1026h27M271 1062h27M271 1098h27M271 1135h27M271 1171h27M271 1207h27M271 1244h27M271 1280h27M271 1316h27M271 1353h27M271 1389h27M271 796h14M271 790h14M271 786h14M271 782h14M271 779h14M271 777h14M271 775h14M271 773h14M271 833h14M271 826h14M271 822h14M271 818h14M271 815h14M271 813h14M271 811h14M271 809h14M271 869h14M271 863h14M271 858h14M271 855h14M271 852h14M271 849h14M271 847h14M271 845h14M271 906h14M271 899h14M271 895h14M271 891h14M271 888h14M271 886h14M271 884h14M271 882h14M271 942h14M271 936h14M271 931h14M271 927h14M271 925h14M271 922h14M271 920h14M271 918h14M271 978h14M271 972h14M271 967h14M271 964h14M271 961h14M271 958h14M271 956h14M271 955h14M271 1015h14M271 1008h14M271 1004h14M271 1000h14M271 997h14M271 995h14M271 993h14M271 991h14M271 1051h14M271 1045h14M271 1040h14M271 1037h14M271 1034h14M271 1031h14M271 1029h14M271 1027h14M271 1087h14M271 1081h14M271 1076h14M271 1073h14M271 1070h14M271 1068h14M271 1065h14M271 1064h14M271 1124h14M271 1117h14M271 1113h14M271 1109h14M271 1106h14M271 1104h14M271 1102h14M271 1100h14M271 1160h14M271 1154h14M271 1149h14M271 1146h14M271 1143h14M271 1140h14M271 1138h14M271 1136h14M271 1196h14M271 1190h14M271 1185h14M271 1182h14M271 1179h14M271 1177h14M271 1175h14M271 1173h14M271 1233h14M271 1226h14M271 1222h14M271 1218h14M271 1215h14M271 1213h14M271 1211h14M271 1209h14M271 1269h14M271 1263h14M271 1258h14M271 1255h14M271 1252h14M271 1249h14M271 1247h14M271 1245h14M271 1306h14M271 1299h14M271 1295h14M271 1291h14M271 1288h14M271 1286h14M271 1284h14M271 1282h14M271 1342h14M271 1335h14M271 1331h14M271 1327h14M271 1325h14M271 1322h14M271 1320h14M271 1318h14M271 1378h14M271 1372h14M271 1367h14M271 1364h14M271 1361h14M271 1358h14M271 1356h14M271 1354h14M271 1415h14M271 1408h14M271 1404h14M271 1400h14M271 1397h14M271 1395h14M271 1393h14M271 1391h14" stroke="#000" stroke-width="6" fill="none" shape-rendering="crispEdges"/>
<g clip-path="url(#c2)">
<path d="M271.5 1031.7L510.2 963.4L621.1 932.4L723.2 905.1L771.7 892.8L811.3 883.3L844.8 875.7L887 866.8L922.3 860.1L952.6 854.9L987.5 849.8L1017.5 846.1L1050 842.9L1083.4 840.3L1112.5 838.7L1142 837.7L1175 837.2L1206.5 837.3L1239.1 837.8L1276.2 838.9L1362.9 843L1497.1 851.1L1677.2 863.1L1911.2 879.6L2272.3 905.6" fill="none" stroke="#ff0000" stroke-width="11" stroke-linejoin="bevel" shape-rendering="crispEdges"/>
<use href="#k0" x="271.5" y="1031.7"/>
<use href="#k0" x="1446.1" y="847.9"/>
<use href="#k0" x="1596.2" y="857.6"/>
<use href="#k0" x="1684.1" y="863.6"/>
<use href="#k0" x="1746.5" y="867.9"/>
<use href="#k0" x="1795" y="871.3"/>
<use href="#k0" x="1834.5" y="874.1"/>
<use href="#k0" x="1868" y="876.5"/>
<use href="#k0" x="1897" y="878.6"/>
<use href="#k0" x="1922.6" y="880.4"/>
<use href="#k0" x="1945.4" y="882"/>
<use href="#k0" x="1966.1" y="883.5"/>
<use href="#k0" x="1985" y="884.9"/>
<use href="#k0" x="2002.4" y="886.1"/>
<use href="#k0" x="2018.5" y="887.3"/>
<use href="#k0" x="2033.5" y="888.4"/>
<use href="#k0" x="2047.5" y="889.4"/>
<use href="#k0" x="2060.7" y="890.3"/>
<use href="#k0" x="2073.1" y="891.2"/>
<use href="#k0" x="2084.8" y="892"/>
<use href="#k0" x="2096" y="892.9"/>
<use href="#k0" x="2106.6" y="893.6"/>
<use href="#k0" x="2116.7" y="894.3"/>
<use href="#k0" x="2126.3" y="895"/>
<use href="#k0" x="2135.6" y="895.7"/>
<use href="#k0" x="2144.4" y="896.3"/>
<use href="#k0" x="2153" y="897"/>
<use href="#k0" x="2161.2" y="897.6"/>
<use href="#k0" x="2169" y="898.1"/>
<use href="#k0" x="2176.7" y="898.7"/>
<use href="#k0" x="2184" y="899.2"/>
<use href="#k0" x="2191.2" y="899.7"/>
<use href="#k0" x="2198.1" y="900.2"/>
<use href="#k0" x="2204.7" y="900.7"/>
<use href="#k0" x="2211.2" y="901.2"/>
<use href="#k0" x="2217.5" y="901.6"/>
<use href="#k0" x="2223.6" y="902.1"/>
<use href="#k0" x="2229.6" y="902.5"/>
<use href="#k0" x="2235.4" y="902.9"/>
<use href="#k0" x="2241" y="903.3"/>
<use href="#k0" x="2246.5" y="903.7"/>
<use href="#k0" x="2251.9" y="904.1"/>
<use href="#k0" x="2257.1" y="904.5"/>
<use href="#k0" x="2262.2" y="904.9"/>
<use href="#k0" x="2267.2" y="905.2"/>
<use href="#k0" x="2272.1" y="905.6"/>
<path d="M271.5 1097.7L510.2 1029.7L660.7 988L723.2 971.3L792.4 953.4L859.8 936.7L911.1 924.8L961.9 913.9L1003 905.9L1050 897.8L1088.6 892.3L1125.6 888.1L1160.9 885.2L1194.4 883.7L1228.8 883.3L1265.3 884.4L1302.3 886.9L1341.9 891L1385.9 896.9L1445.1 906.3L1509.8 917.6L1570.3 929.3L1631.7 942.3L1687.7 955.1L1747.5 969.5L1812.1 985.8L1883.1 1004.5L1961.5 1025.7L2050 1050.2L2272.3 1113.3" fill="none" stroke="#0000ff" stroke-width="11" stroke-linejoin="bevel" shape-rendering="crispEdges"/>
<use href="#k2" x="271.5" y="1097.7"/>
<use href="#k2" x="1446.1" y="906.4"/>
<use href="#k2" x="1596.2" y="934.7"/>
<use href="#k2" x="1684.1" y="954.2"/>
<use href="#k2" x="1746.5" y="969.3"/>
<use href="#k2" x="1795" y="981.4"/>
<use href="#k2" x="1834.5" y="991.7"/>
<use href="#k2" x="1868" y="1000.5"/>
<use href="#k2" x="1897" y="1008.2"/>
<use href="#k2" x="1922.6" y="1015.1"/>
<use href="#k2" x="1945.4" y="1021.3"/>
<use href="#k2" x="1966.1" y="1027"/>
<use href="#k2" x="1985" y="1032.2"/>
<use href="#k2" x="2002.4" y="1037"/>
<use href="#k2" x="2018.5" y="1041.4"/>
<use href="#k2" x="2033.5" y="1045.6"/>
<use href="#k2" x="2047.5" y="1049.5"/>
<use href="#k2" x="2060.7" y="1053.2"/>
<use href="#k2" x="2073.1" y="1056.7"/>
<use href="#k2" x="2084.8" y="1060"/>
<use href="#k2" x="2096" y="1063.1"/>
<use href="#k2" x="2106.6" y="1066.1"/>
<use href="#k2" x="2116.7" y="1068.9"/>
<use href="#k2" x="2126.3" y="1071.7"/>
<use href="#k2" x="2135.6" y="1074.3"/>
<use href="#k2" x="2144.4" y="1076.8"/>
<use href="#k2" x="2153" y="1079.2"/>
<use href="#k2" x="2161.2" y="1081.5"/>
<use href="#k2" x="2169" y="1083.8"/>
<use href="#k2" x="2176.7" y="1085.9"/>
<use href="#k2" x="2184" y="1088"/>
<use href="#k2" x="2191.2" y="1090.1"/>
<use href="#k2" x="2198.1" y="1092"/>
<use href="#k2" x="2204.7" y="1093.9"/>
<use href="#k2" x="2211.2" y="1095.8"/>
<use href="#k2" x="2217.5" y="1097.6"/>
<use href="#k2" x="2223.6" y="1099.3"/>
<use href="#k2" x="2229.6" y="1101"/>
<use href="#k2" x="2235.4" y="1102.7"/>
<use href="#k2" x="2241" y="1104.3"/>
<use href="#k2" x="2246.5" y="1105.9"/>
<use href="#k2" x="2251.9" y="1107.4"/>
<use href="#k2" x="2257.1" y="1108.9"/>
<use href="#k2" x="2262.2" y="1110.4"/>
<use href="#k2" x="2267.2" y="1111.8"/>
<use href="#k2" x="2272.1" y="1113.2"/>
<path d="M271.5 1163.4L510.2 1095.6L621.1 1064.8L694.2 1045.1L771.7 1024.9L844.8 1006.7L911.1 991.2L970.7 978.5L1024.4 968.3L1072.9 960.4L1098.4 956.9L1121.3 954.1L1142 952L1164.5 950.1L1184.9 948.8L1206.5 948L1226.1 947.8L1244.1 948L1263 948.8L1280.4 950L1298.4 951.8L1315.1 954L1328.9 956.3L1343.4 959.1L1357.1 962.2L1369.9 965.4L1383.3 969.3L1395.9 973.4L1420.3 982.5L1433.1 987.9L1445.1 993.5L1469.2 1005.9L1493.2 1020L1518.4 1036.5L1533.9 1047.4L1551.4 1060.4L1615.4 1109.6L1646.5 1132.9L1681.5 1157.8L1754 1207.6L1787 1230.8L1823.3 1257.5L1858.1 1284.4L1881.7 1303.5L1905.3 1323.2L1929.2 1343.9L1953.6 1365.6L1978.6 1388.5L2004.2 1412.6L2030.6 1438L2058 1465L2272.3 1465" fill="none" stroke="#ff00ff" stroke-width="11" stroke-linejoin="bevel" shape-rendering="crispEdges"/>
<use href="#k4" x="271.5" y="1163.4"/>
<use href="#k4" x="1446.1" y="994"/>
<use href="#k4" x="1596.2" y="1094.9"/>
<use href="#k4" x="1684.1" y="1159.6"/>
<use href="#k4" x="1746.5" y="1202.5"/>
<use href="#k4" x="1795" y="1236.6"/>
<use href="#k4" x="1834.5" y="1266"/>
<use href="#k4" x="1868" y="1292.3"/>
<use href="#k4" x="1897" y="1316.2"/>
<use href="#k4" x="1922.6" y="1338.1"/>
<use href="#k4" x="1945.4" y="1358.3"/>
<use href="#k4" x="1966.1" y="1377"/>
<use href="#k4" x="1985" y="1394.5"/>
<use href="#k4" x="2002.4" y="1410.9"/>
<use href="#k4" x="2018.5" y="1426.3"/>
<use href="#k4" x="2033.5" y="1440.9"/>
<use href="#k4" x="2047.5" y="1454.6"/>
<path d="M271.5 1229.1L510.2 1161.3L621.1 1130.6L694.2 1110.9L771.7 1090.7L844.8 1072.6L911.1 1057.2L961.9 1046.4L1010.4 1037L1061.7 1028.3L1107.9 1022L1149.8 1017.6L1171.5 1016L1191.3 1015L1209.4 1014.4L1228.8 1014.3L1246.6 1014.6L1265.3 1015.4L1282.5 1016.7L1298.4 1018.3L1316.9 1020.8L1335.5 1024.1L1354.1 1028.1L1371.3 1032.5L1388.4 1037.7L1405.5 1043.7L1421.4 1050.1L1437.2 1057.3L1452.8 1065.4L1467.4 1073.7L1482 1082.8L1496.3 1092.8L1510.6 1103.6L1524.6 1115.2L1538.4 1127.7L1551.4 1140.4L1564.7 1154.5L1577.4 1168.9L1589.8 1184.1L1602 1200.1L1614 1216.9L1625.8 1234.5L1637.4 1252.9L1649.2 1272.7L1660.8 1293.4L1672.1 1314.7L1683.1 1336.8L1694.3 1360.3L1705.2 1384.4L1716.2 1409.9L1726.9 1435.9L1738.3 1465L2272.3 1465" fill="none" stroke="#008000" stroke-width="11" stroke-linejoin="bevel" shape-rendering="crispEdges"/>
<use href="#k6" x="271.5" y="1229.1"/>
<use href="#k6" x="1446.1" y="1061.8"/>
<use href="#k6" x="1596.2" y="1192.4"/>
<use href="#k6" x="1684.1" y="1338.8"/>
<path d="M271.5 1294.8L510.2 1227L621.1 1196.3L694.2 1176.6L771.7 1156.5L844.8 1138.4L911.1 1123L961.9 1112.2L1010.4 1102.8L1061.7 1094.2L1107.9 1087.9L1149.8 1083.6L1191.3 1080.9L1228.8 1080.3L1265.3 1081.5L1298.4 1084.5L1315.1 1086.7L1332.2 1089.6L1348.1 1092.9L1364.3 1096.8L1379.4 1101.1L1394.7 1106.1L1410.2 1111.9L1424.6 1117.9L1439.2 1124.7L1452.8 1131.8L1466.6 1139.6L1479.5 1147.7L1492.4 1156.5L1505.4 1166.1L1517.7 1176L1529.9 1186.6L1542.2 1198L1554.3 1210.2L1566.4 1223.3L1577.9 1236.5L1589.3 1250.5L1600.6 1265.4L1611.7 1281.1L1622.4 1296.9L1639.8 1324.7L1645 1333.4L1645.8 1335.3L1646.1 1335.4L1647.3 1338.1L1647.7 1338L1648.1 1339.5L1648.5 1339.3L1648.8 1340.9L1649.2 1340.7L1649.6 1342.1L1650 1341.9L1650.7 1344.4L1651.5 1344.7L1652.3 1346L1652.6 1347.8L1653 1347.9L1653.8 1349.9L1654.1 1349.2L1654.9 1351.3L1655.3 1351.4L1655.6 1353.1L1656 1353L1656.7 1354.7L1657.1 1354.4L1657.5 1357.1L1657.8 1356.4L1658.9 1360.1L1659.3 1359.6L1660 1362.3L1660.4 1360.1L1661.5 1365.3L1661.9 1362L1662.2 1366.4L1662.9 1363.8L1663.3 1370.1L1663.7 1366.8L1664 1371.7L1664.4 1366.1L1664.7 1366.7L1665.1 1374.3L1665.4 1369L1665.8 1372.9L1666.1 1368.9L1666.5 1377.9L1666.8 1371.6L1667.2 1370.5L1667.6 1375.2L1667.9 1371.6L1668.6 1383.8L1669 1373.1L1669.3 1385.9L1669.7 1374.1L1670 1374.6L1670.3 1389.4L1670.7 1375.4L1671.4 1393.6L1671.7 1376.8L1672.1 1377.3L1672.4 1398.1L1673.4 1403.3L1673.8 1379.4L1674.1 1407.6L1674.8 1380.6L1675.2 1381L1675.5 1420L1675.8 1387L1676.2 1382.1L1676.5 1382.5L1676.8 1465L1677.5 1383.5L1677.8 1426.7L1678.5 1386.2L1678.9 1384.1L1679.2 1389.1L1679.5 1384.7L1679.9 1385.9L1680.2 1407L1680.5 1385.5L1680.8 1405.2L1681.2 1385.9L1681.5 1386.2L1682.2 1437L1682.8 1401.3L1683.1 1400.8L1683.5 1387.4L1683.8 1438.7L1684.5 1396.9L1685.1 1465L1685.4 1426.7L1685.8 1447.3L1686.1 1415.1L1687 1430L1687.4 1402.2L1688 1407.8L1688.3 1420.1L1688.6 1403.3L1689.3 1423.6L1689.6 1416.1L1689.9 1415.7L1690.2 1449.8L1690.5 1407.4L1690.9 1402.5L1691.8 1446.6L1692.1 1403.2L1692.4 1409.7L1693.1 1409.3L1693.4 1403.7L1693.7 1420.2L1694 1410L1694.3 1418.3L1694.6 1402.5L1694.9 1408.2L1695.2 1402.7L1695.5 1408.6L1695.9 1402.9L1696.5 1418.9L1696.8 1402.5L1697.4 1418.6L1697.7 1402.7L1698 1402.8L1698.3 1406.1L1699.5 1405.8L1699.8 1407.1L1700.1 1465L1700.4 1403.3L1700.7 1465L1701 1405.6L1701.3 1403.4L1701.9 1404.1L1702.2 1410.9L1702.8 1404.2L1703.1 1404.3L1703.4 1426.5L1703.7 1404.3L1704 1405.8L1704.3 1404.4L1704.6 1405.7L1704.9 1424L1705.2 1405.8L1705.5 1440.5L1706.4 1405.6L1706.7 1444.4L1707 1407.4L1707.3 1412.6L1707.6 1406.9L1707.9 1407.6L1708.2 1416.3L1708.4 1448.5L1708.7 1412.2L1709 1418.4L1709.3 1411.9L1709.6 1412.6L1709.9 1444.6L1710.8 1418.9L1711 1444.1L1711.3 1416.2L1711.9 1418.5L1712.5 1433L1712.8 1420.5L1713.3 1430.9L1713.6 1419.9L1713.9 1428.2L1714.2 1421.3L1714.8 1422.7L1715 1426.9L1715.3 1424L1715.6 1424.7L1715.9 1429.2L1716.2 1426L1716.4 1426.7L1716.7 1426.5L1717 1430.3L1717.3 1427.9L1718.1 1457.5L1718.4 1438.4L1718.7 1452.5L1719 1430.8L1719.5 1437.5L1719.8 1432.1L1720.1 1432.8L1720.9 1465" fill="none" stroke="#000080" stroke-width="11" stroke-linejoin="bevel" shape-rendering="crispEdges"/>
<use href="#k8" x="271.5" y="1294.8"/>
<use href="#k8" x="1446.1" y="1128.2"/>
<use href="#k8" x="1596.2" y="1259.6"/>
<use href="#k8" x="1684.1" y="1408.7"/>
<path d="M271.5 1359.2L422.1 1317.6L572.7 1275.3L694.2 1242.3L771.7 1222.1L828.7 1207.9L887 1194.2L932.9 1184L987.5 1172.8L1031.1 1164.9L1072.9 1158.3L1116.9 1152.5L1153.6 1149L1191.3 1146.7L1226.1 1146L1260.8 1147L1290.6 1149.4L1320.4 1153.4L1348.1 1158.7L1375.4 1165.8L1402 1174.6L1426.8 1184.8L1450.9 1196.7L1473.5 1209.8L1490.1 1220.8L1505.4 1232.1L1520.5 1244.3L1535.2 1257.4L1549.6 1271.4L1563.6 1286.2L1576.8 1301.3L1591.3 1319.1L1601 1332.4L1601.5 1332.6L1602 1333.7L1602.5 1333.9L1605.8 1339L1606.7 1339.7L1609.5 1344.6L1609.9 1345.2L1610.4 1344.5L1610.8 1345.2L1611.7 1348.1L1613.1 1350.1L1613.6 1349L1614.5 1350.2L1614.9 1352.9L1615.4 1353.6L1616.2 1353.5L1616.7 1355.7L1617.1 1354.2L1617.6 1356.9L1618 1356.1L1618.9 1359.1L1619.3 1358.9L1619.8 1357.8L1620.2 1358.4L1620.7 1362L1621.5 1360.2L1622 1364L1622.4 1361.4L1622.8 1365.7L1623.3 1362.6L1623.7 1367.2L1624.1 1363.8L1625 1368.7L1625.4 1370.2L1625.8 1369.5L1626.7 1372.6L1627.1 1367.8L1627.5 1374.2L1627.9 1375.1L1628.4 1369.5L1628.8 1376.7L1629.2 1370.6L1630 1375L1630.5 1380.2L1630.9 1373L1631.3 1373.3L1631.7 1381.2L1632.1 1373.5L1632.5 1375.6L1632.9 1374.5L1633.4 1375L1633.8 1384.2L1634.2 1375.9L1634.6 1379.5L1635 1376.7L1635.4 1380.2L1635.8 1377.6L1636.2 1398.2L1636.6 1382.8L1637.4 1394.5L1637.8 1387L1638.6 1411.5L1639.4 1389.2L1639.8 1422.2L1641 1382.4L1642.2 1429.8L1643 1421.1L1643.4 1384.3L1643.8 1386.6L1644.2 1437.8L1644.6 1387.3L1645.4 1387.9L1646.1 1430.9L1646.5 1417L1646.9 1415.5L1647.7 1399L1648.1 1411.8L1648.5 1410.8L1648.8 1440.7L1649.2 1405.6L1649.6 1404.8L1650 1395.9L1650.4 1395.5L1650.7 1449.7L1651.1 1398.6L1651.5 1398.9L1651.9 1433L1652.6 1428.7L1653 1400L1653.8 1400.6L1654.1 1426.3L1654.5 1401.1L1654.9 1421.3L1655.3 1401.6L1655.6 1437.4L1656.4 1402.3L1656.7 1402.5L1657.1 1423.7L1657.5 1402.9L1657.8 1403.1L1658.2 1415.9L1658.6 1403.5L1658.9 1416.6L1660 1412.5L1660.4 1404.3L1660.8 1423.3L1661.1 1419.4L1661.5 1423.1L1662.6 1402.3L1662.9 1409.3L1663.3 1409.2L1664 1407.2L1664.4 1412.3L1665.4 1403.1L1665.8 1407L1666.1 1403.2L1667.2 1403.4L1667.6 1406.6L1667.9 1402.3L1668.3 1405L1669 1449L1669.3 1404.8L1669.7 1402.6L1670 1404.7L1670.3 1426L1670.7 1404.6L1671 1402.7L1671.4 1402.8L1671.7 1404.5L1672.1 1404.5L1672.4 1402.9L1672.8 1404.4L1673.1 1404.4L1673.4 1416.9L1673.8 1410.3L1674.1 1408.4L1674.8 1408.5L1675.2 1430.5L1675.5 1408.6L1675.8 1408.6L1676.2 1406.9L1676.5 1409.4L1676.8 1435.9L1677.5 1408.1L1677.8 1404.2L1678.2 1404.2L1678.5 1439.8L1678.9 1406.9L1679.2 1403.5L1679.9 1403.5L1680.2 1408.4L1680.5 1406.9L1681.2 1407.5L1681.5 1406.9L1682.2 1438.5L1682.5 1406.9L1682.8 1407.5L1683.1 1434.3L1683.5 1407L1683.8 1407L1684.1 1465L1684.8 1407.4L1685.4 1412.5L1685.8 1465L1686.1 1407.4L1686.4 1407.4L1686.7 1461L1687 1407.1L1687.4 1407.3L1687.7 1412.5L1688 1407.3L1688.6 1424.8L1689.3 1406.6L1689.6 1406.4L1689.9 1429.6L1690.2 1406.6L1690.9 1409L1691.2 1406.4L1691.5 1406.4L1691.8 1450.3L1692.4 1441.5L1693.1 1406.5L1693.7 1406.4L1694 1407.5L1694.6 1406.4L1694.9 1410.3L1695.2 1406.5L1695.5 1414.1L1695.9 1406.5L1697.7 1406.5L1698 1404.8L1698.3 1407.6L1698.6 1404.8L1698.9 1404.8L1699.2 1407.1L1699.8 1404.8L1700.1 1407L1700.4 1404.8L1700.7 1409.6L1702.5 1409.6L1702.8 1431L1703.1 1406.2L1705.2 1406.3L1705.5 1410.4L1705.8 1406.3L1706.1 1406.3L1706.4 1419.3L1706.7 1406.3L1707 1407L1707.3 1403.7L1707.9 1465L1708.4 1406.3L1708.7 1454.5L1709 1420.3L1709.6 1408.2L1709.9 1417L1710.2 1409.6L1711 1411.6L1711.3 1453L1711.6 1418L1711.9 1423.4L1712.2 1419.3L1712.5 1420L1712.8 1443.2L1713.1 1421.3L1713.3 1432.5L1713.9 1419.9L1714.2 1445.1L1714.5 1421.2L1715.6 1423.9L1715.9 1465L1716.4 1425.9L1716.7 1452.9L1717 1443.7L1717.3 1444.7L1718.1 1431L1718.4 1430.6L1718.7 1447.3L1719 1431.9L1719.2 1432.9L1719.5 1432L1720.1 1465L1720.3 1434L1720.9 1435.4" fill="none" stroke="#8000ff" stroke-width="11" stroke-linejoin="bevel" shape-rendering="crispEdges"/>
<use href="#k10" x="271.5" y="1359.2"/>
<use href="#k10" x="1446.1" y="1194.1"/>
<use href="#k10" x="1596.2" y="1325.8"/>
<path d="M271.5 1387.5L422.1 1376.6L510.2 1359.2L572.7 1340.2L723.2 1300.3L811.3 1277.9L873.8 1262.9L922.3 1251.9L970.7 1241.8L1017.5 1232.9L1055.9 1226.5L1088.6 1221.7L1121.3 1217.7L1149.8 1215L1178.3 1213L1206.5 1211.9L1234 1211.8L1260.8 1212.7L1294.6 1215.5L1311.5 1217.7L1327.2 1220.2L1343.4 1223.4L1358.5 1226.9L1374 1231.1L1388.4 1235.6L1403.2 1240.8L1417 1246.2L1431 1252.4L1444.2 1258.9L1457.5 1266L1470.1 1273.4L1482.8 1281.6L1494.8 1289.9L1508.4 1300.2L1522.5 1311.8L1536.5 1324.3L1542.8 1330.6L1543.4 1330.9L1545.3 1333.1L1545.9 1333.2L1547.1 1335.1L1547.7 1335L1549 1336.9L1551.4 1339.4L1552 1339.2L1552.6 1340.5L1554.9 1342.2L1555.5 1343.8L1556.1 1343.4L1556.7 1344L1557.9 1346.4L1558.5 1345.8L1559 1346.4L1559.6 1348.3L1560.8 1348.4L1561.3 1350.3L1562.5 1351.6L1563.6 1351.2L1564.2 1351.7L1564.7 1354.3L1565.3 1352.9L1565.9 1355.6L1566.4 1354.5L1568.7 1356.4L1570.3 1361.1L1570.9 1361.8L1571.4 1360L1572 1363.3L1572.5 1364.3L1573.1 1360.6L1573.6 1361.2L1574.1 1366.6L1575.7 1368.8L1576.3 1364.2L1576.8 1366.3L1577.4 1365.3L1577.9 1370.5L1578.9 1373L1579.5 1369.8L1580 1374.6L1580.5 1368.5L1581 1376.2L1581.6 1372.1L1582.1 1376.8L1582.6 1371.3L1583.1 1378.4L1584.2 1380L1584.7 1377L1585.2 1384L1585.7 1381.9L1586.2 1386L1586.7 1374L1587.2 1386.6L1587.7 1375L1588.3 1390.4L1588.8 1378.4L1589.3 1391L1589.8 1377.4L1590.8 1394.5L1591.3 1378.7L1591.8 1397L1592.3 1379.6L1593.3 1380.4L1593.8 1382.3L1594.2 1390.3L1594.7 1392.7L1595.2 1408.2L1595.7 1382.4L1596.2 1388.4L1596.7 1383.1L1597.2 1418.4L1597.7 1387.1L1598.2 1407.1L1599.1 1406.9L1599.6 1398.8L1600.1 1425.6L1600.6 1387.3L1601 1394.5L1601.5 1424.6L1602 1418.9L1602.5 1453.1L1602.9 1439.6L1603.4 1389.3L1604.4 1425.9L1604.8 1420L1605.3 1421.2L1605.8 1394L1606.2 1397.3L1606.7 1416.5L1607.2 1406L1608.1 1428.7L1608.5 1413.7L1609 1418.5L1609.5 1410L1609.9 1465L1610.4 1399.7L1610.8 1400L1611.3 1443L1611.7 1441.9L1612.2 1424.7L1612.7 1423.4L1613.1 1414.1L1613.6 1449.7L1614 1420.4L1614.5 1414L1614.9 1445.2L1615.4 1400.9L1615.8 1401.1L1616.2 1417L1616.7 1417.2L1617.1 1413.2L1617.6 1403L1618 1415.7L1618.5 1415.3L1618.9 1436.8L1619.3 1405.8L1619.8 1422.3L1620.2 1403.3L1620.7 1403.4L1621.1 1453.8L1621.5 1403.8L1622 1411.2L1622.4 1404L1622.8 1425.5L1623.3 1412.1L1623.7 1436.8L1624.1 1411.7L1624.5 1411.5L1625 1408L1625.4 1411.1L1625.8 1405L1626.3 1405.1L1627.1 1465L1627.5 1455.6L1627.9 1405.5L1630 1405.3L1630.5 1408.3L1631.3 1402.5L1631.7 1405L1632.1 1405L1632.5 1402.6L1632.9 1410.6L1633.4 1402.7L1633.8 1404.8L1634.2 1455.9L1634.6 1404.7L1635 1404.7L1635.4 1402.3L1635.8 1402.4L1636.2 1405.1L1636.6 1412.2L1637 1402.5L1637.4 1403.8L1637.8 1402.5L1638.2 1403.8L1638.6 1402.6L1639 1403.7L1639.4 1412.9L1639.8 1404.4L1640.2 1405.5L1640.6 1404.4L1641 1416.2L1641.4 1408.1L1641.8 1416.7L1642.2 1415.2L1642.6 1407L1643.4 1410.3L1643.8 1407.1L1644.2 1408L1645 1407.9L1645.4 1427.5L1645.8 1407.9L1646.1 1420.8L1646.5 1409.4L1646.9 1407.2L1647.7 1416.8L1648.1 1407.3L1648.5 1407.8L1648.8 1405.9L1649.2 1405.9L1649.6 1425.9L1650 1405.2L1650.4 1405.2L1650.7 1415.1L1651.5 1404.8L1651.9 1405.1L1652.3 1424.8L1653.4 1403.6L1654.5 1403.6L1654.9 1404.5L1655.3 1414.9L1655.6 1403.8L1656.4 1403.8L1656.7 1404.3L1657.1 1410.3L1657.5 1403.8L1657.8 1403.6L1658.2 1409.6L1658.6 1403.8L1658.9 1403.8L1659.7 1405.9L1660 1441.6L1660.4 1405.9L1660.8 1430.4L1661.1 1405.9L1661.5 1406L1661.9 1454.6L1662.2 1406.1L1663.7 1406L1664 1420.3L1664.7 1406L1665.1 1406L1665.4 1411.2L1665.8 1406L1666.1 1406L1666.5 1412.1L1666.8 1406L1667.2 1406L1667.6 1428.7L1667.9 1406.4L1668.3 1414.1L1668.6 1406L1669 1406L1669.3 1415.3L1669.7 1407.5L1670 1413.5L1670.3 1407.5L1671 1407.4L1671.7 1442L1672.1 1408L1672.8 1407.4L1673.1 1433.6L1673.4 1407.5L1673.8 1405.2L1674.5 1405.2L1674.8 1407.2L1675.2 1405.2L1675.8 1405.2L1676.2 1440.8L1676.5 1405.2L1677.2 1405.2L1677.5 1403L1677.8 1406.7L1678.2 1403L1678.5 1408.4L1678.9 1403L1680.2 1403L1680.5 1457L1681.2 1403L1681.8 1403L1682.2 1411.3L1682.5 1403L1683.1 1424.6L1683.5 1412.4L1683.8 1421.4L1684.1 1465L1684.5 1403.8L1684.8 1403.8L1685.1 1431L1685.4 1406.1L1685.8 1403.8L1686.1 1418.5L1686.4 1404L1687 1403.8L1687.4 1423.2L1687.7 1403.8L1688.3 1403.8L1688.6 1415.9L1689 1403.8L1689.9 1403.8L1690.2 1407.9L1690.5 1405.1L1690.9 1409.8L1691.2 1404.2L1691.5 1404.2L1691.8 1405.5L1692.1 1403.9L1692.4 1403.9L1692.7 1425L1693.1 1403.9L1693.4 1403.9L1693.7 1407.4L1694 1403.9L1694.3 1403.9L1694.6 1426.3L1695.2 1403.9L1695.5 1439.4L1696.2 1403.9L1696.5 1403.9L1696.8 1416.5L1697.1 1403.9L1697.7 1403.9L1698 1404.9L1698.3 1419.6L1698.6 1403.4L1699.2 1403.4L1699.5 1418L1699.8 1404.3L1700.1 1403.4L1700.4 1434.7L1700.7 1405.2L1701 1403.4L1701.3 1407.3L1701.6 1427.4L1702.2 1407.3L1702.5 1410.5L1702.8 1407.3L1703.1 1407.3L1703.4 1436.7L1703.7 1407.3L1704.9 1407.3L1705.2 1416.8L1705.5 1412.3L1706.1 1432.3L1706.4 1407.3L1706.7 1407.3L1707 1409.2L1707.3 1407.3L1708.4 1409.9L1708.7 1428.9L1709 1409L1710.5 1412.4L1710.8 1445L1711 1413.7L1712.8 1417.7L1713.1 1431.2L1713.3 1419L1713.6 1431.4L1713.9 1420.4L1714.2 1455.6L1714.5 1426L1714.8 1422.4L1715 1423.1L1715.3 1465L1715.9 1425.1L1716.7 1427.1L1717 1449.8L1717.3 1429.7L1717.6 1445.2L1717.8 1431L1719.2 1434.3L1720.1 1449.3L1720.3 1465L1720.6 1441.2L1720.9 1465" fill="none" stroke="#800080" stroke-width="11" stroke-linejoin="bevel" shape-rendering="crispEdges"/>
<use href="#k12" x="271.5" y="1387.5"/>
<use href="#k12" x="1446.1" y="1259.9"/>
<use href="#k12" x="1596.2" y="1388.4"/>
<path d="M271.5 1387.5L422.1 1387.5M572.7 1376.6L621.1 1387.5M694.2 1376.6L723.2 1370.2M723.2 1370.2L748.8 1356.8M748.8 1356.8L771.7 1352.8M771.7 1352.8L792.4 1348.3M792.4 1348.3L811.3 1344.8M811.3 1344.8L828.7 1338.7M828.7 1338.7L932.9 1315.1M932.9 1315.1L970.7 1307.4M970.7 1307.4L1031.1 1296.2M1031.1 1296.2L1067.4 1290.4M1067.4 1290.4L1098.4 1286.1M1098.4 1286.1L1129.8 1282.5M1129.8 1282.5L1160.9 1279.8M1160.9 1279.8L1188.1 1278.2L1215.1 1277.5L1241.6 1277.6L1267.5 1278.8L1296.5 1281.4L1323.8 1285.3L1349.6 1290.5L1375.4 1297.2L1400.8 1305.6L1425.7 1315.6L1448.1 1326.3L1449 1327.2L1453.8 1329.4L1454.7 1330.5L1455.7 1330.4L1459.3 1333L1460.3 1333.1L1461.2 1334.2L1462.1 1334.3L1463.9 1335.8L1464.8 1335.7L1468.3 1337.7L1469.2 1339L1470.9 1340.1L1471.8 1339.8L1472.7 1340.3L1473.5 1341.7L1475.3 1342.9L1477.8 1343.4L1481.1 1345.6L1482 1347.3L1486.1 1348.8L1487.7 1351.4L1488.5 1350.4L1489.3 1350.9L1490.9 1353.7L1492.4 1353L1493.2 1355.5L1494 1356.3L1494.8 1354.5L1495.6 1357L1496.3 1357.6L1497.9 1358.1L1498.6 1357.1L1499.4 1357.6L1500.2 1360.1L1500.9 1359.9L1501.7 1362.4L1502.4 1359.8L1503.2 1363.6L1503.9 1360.8L1504.7 1363.8L1506.2 1364.7L1506.9 1366.9L1508.4 1367.2L1509.1 1364.4L1510.6 1365.9L1512 1366.4L1513.4 1373L1514.1 1367.9L1515.6 1368.8L1516.3 1374.3L1517.7 1370.3L1518.4 1378.2L1519.1 1378.9L1520.5 1372.2L1521.2 1380.3L1521.8 1376.7L1523.2 1381.7L1523.9 1375.1L1524.6 1377.7L1525.3 1377.3L1525.9 1385.9L1526.6 1377L1527.3 1383.5L1527.9 1377.9L1528.6 1378.3L1529.3 1390.1L1529.9 1380.5L1530.6 1379.7L1531.3 1382.6L1531.9 1382.4L1532.6 1381L1533.2 1387.2L1533.9 1381.8L1534.5 1382.3L1535.2 1386.4L1535.8 1384.6L1537.1 1391.5L1537.7 1382.2L1538.4 1382.5L1539 1421.8L1539.7 1426.2L1540.3 1399.4L1540.9 1440.7L1541.5 1384.1L1542.2 1387.5L1542.8 1384.7L1543.4 1432.4L1544 1427.6L1544.7 1385.6L1545.3 1385.8L1545.9 1425.8L1547.1 1386.6L1547.7 1413.7L1548.3 1389.1L1549 1386L1549.6 1386.3L1550.2 1404.5L1550.8 1407.3L1551.4 1386.9L1552.6 1388.1L1553.2 1400L1553.8 1403.5L1554.3 1403L1555.5 1429.5L1556.1 1427.4L1556.7 1427.6L1557.3 1397.1L1557.9 1402.3L1558.5 1397.6L1559 1408.4L1559.6 1398.1L1560.2 1419.9L1560.8 1398.6L1561.3 1406.4L1561.9 1438.7L1562.5 1399.2L1563 1416.2L1563.6 1408.1L1564.2 1420.3L1564.7 1419.6L1565.3 1403.8L1565.9 1402.2L1567 1402.6L1567.6 1416.9L1568.1 1465L1568.7 1401.4L1569.2 1438.3L1569.8 1411.7L1570.9 1411.2L1571.4 1446.2L1572 1405.6L1572.5 1452.8L1573.1 1402.5L1573.6 1422L1574.1 1403.6L1574.7 1431.4L1575.2 1406.2L1575.7 1406.3L1576.3 1414.3L1576.8 1406.6L1577.9 1413.8L1578.9 1413.3L1579.5 1409.8L1580 1421.9L1580.5 1404.9L1581.6 1416.7L1582.6 1403.6L1583.1 1408.1L1584.2 1403.8L1585.2 1403.9L1585.7 1423.2L1586.2 1406.6L1587.2 1439L1588.3 1404.2L1588.8 1403.9L1589.3 1418.1L1589.8 1403.9L1590.3 1404L1590.8 1405.8L1591.3 1404.1L1592.3 1404.1L1592.8 1405.7L1593.3 1405.7L1593.8 1412.9L1594.2 1405.6L1594.7 1405.6L1595.2 1408.2L1595.7 1422.9L1596.2 1465L1596.7 1404.4L1597.2 1405.4L1598.6 1404.3L1599.1 1412.8L1599.6 1404.3L1600.6 1421.9L1601 1403.5L1601.5 1404.2L1602.5 1413.8L1602.9 1403.5L1603.4 1420.3L1603.9 1403.6L1604.4 1403.6L1604.8 1406.6L1605.8 1406.1L1608.1 1406.6L1609 1423.4L1609.5 1406.1L1609.9 1406.1L1610.8 1428.7L1611.7 1406.2L1612.2 1428L1612.7 1406.2L1613.1 1416.5L1613.6 1411.1L1614 1418L1614.5 1411.1L1616.7 1411.4L1617.1 1429.7L1617.6 1411.2L1618 1435.9L1618.5 1412.9L1618.9 1411.4L1619.8 1411.4L1620.2 1425.8L1620.7 1410.3L1621.1 1424.6L1622 1410.3L1622.4 1416.6L1623.3 1410.4L1624.1 1410.4L1624.5 1412.5L1625 1410.4L1625.4 1431.9L1625.8 1405.6L1626.3 1465L1626.7 1405.6L1627.5 1405.6L1627.9 1414.7L1628.4 1408.4L1628.8 1427.1L1629.2 1405.6L1629.6 1405.6L1630 1414.1L1630.5 1405.6L1630.9 1433.3L1631.3 1405.6L1632.1 1405.6L1632.5 1411.7L1632.9 1405.6L1633.4 1405.6L1633.8 1411.9L1634.2 1406.2L1634.6 1406.2L1635 1412L1635.4 1406.2L1635.8 1406.2L1636.6 1411.9L1637 1427L1637.8 1406.2L1638.2 1406.2L1638.6 1463.9L1639 1406.2L1639.4 1425L1639.8 1406.2L1640.2 1406.2L1640.6 1409L1641 1406.2L1641.4 1406.2L1641.8 1412.7L1642.2 1406.2L1642.6 1413.2L1643 1406.2L1643.8 1406.2L1644.2 1409.6L1644.6 1406.2L1645.4 1409.2L1645.8 1402.9L1648.8 1402.9L1649.2 1413.1L1649.6 1402.9L1650 1402.9L1650.7 1431.2L1651.5 1406.1L1651.9 1420.8L1652.3 1407.3L1652.6 1411.9L1653 1407.3L1653.8 1407.3L1654.1 1417.3L1654.5 1407.3L1654.9 1425L1655.3 1407.3L1656 1407.3L1656.4 1420.6L1656.7 1407.3L1657.5 1435.8L1657.8 1403.6L1658.2 1405.7L1658.6 1403.6L1659.7 1403.6L1660 1405.2L1660.4 1403.6L1660.8 1406.1L1661.1 1403.6L1664.4 1403.6L1664.7 1434.8L1665.1 1404.3L1665.8 1403.6L1666.1 1411.6L1666.8 1403.6L1667.2 1404.2L1669.7 1404.2L1670 1427.9L1670.3 1404.2L1670.7 1404.2L1671 1461.4L1671.4 1404.2L1671.7 1426.7L1672.1 1404.2L1673.8 1404.2L1674.1 1414.7L1674.5 1406.5L1675.2 1406.5L1675.5 1451L1675.8 1406.5L1676.2 1406.5L1676.5 1412.2L1676.8 1411.3L1677.2 1413.2L1677.5 1410.8L1678.5 1410.8L1678.9 1432.9L1679.2 1432.1L1679.5 1410.8L1680.2 1410.8L1680.8 1423.2L1681.2 1410.8L1681.8 1410.8L1682.2 1414.1L1682.5 1407.8L1682.8 1407.7L1683.1 1420L1683.5 1403.2L1683.8 1403.2L1684.1 1465L1684.5 1403.2L1684.8 1403.2L1685.1 1428.7L1685.4 1403.2L1685.8 1403.2L1686.1 1425.5L1686.7 1403.2L1687 1403.2L1687.4 1406.8L1687.7 1406.8L1688 1421.2L1688.3 1406.8L1689 1406.8L1689.3 1425.4L1689.6 1406.8L1689.9 1427.7L1690.2 1423.4L1690.9 1439.9L1691.2 1410.5L1691.5 1410.5L1692.1 1451.5L1692.4 1410.5L1692.7 1419.4L1693.1 1410.5L1694 1410.8L1694.6 1410.5L1694.9 1411.2L1695.2 1417.5L1695.5 1410.5L1695.9 1410.5L1696.5 1426.9L1696.8 1410.5L1697.1 1410.5L1697.4 1422.8L1698 1410.5L1698.3 1425.2L1698.6 1410.7L1698.9 1424.6L1699.2 1411.3L1699.5 1431L1699.8 1410.8L1700.1 1429.8L1700.4 1403.6L1701 1403.6L1701.3 1424.3L1701.6 1403.6L1701.9 1403.6L1702.2 1435.5L1702.5 1409.6L1703.7 1409.6L1704 1437.4L1704.3 1409.9L1705.2 1409.6L1705.5 1403.2L1706.1 1407.1L1706.4 1403.2L1706.7 1429.9L1707.3 1403.2L1707.9 1427.2L1708.2 1405.2L1709.3 1408.8L1709.6 1445.7L1709.9 1409.2L1710.5 1436.2L1710.8 1420.5L1711.3 1450.6L1711.9 1418.1L1712.5 1438.8L1712.8 1420.1L1713.3 1425L1713.6 1451.5L1713.9 1422.8L1714.5 1428.4L1714.8 1424.8L1715 1428.2L1715.3 1427.1L1715.6 1427.9L1715.9 1439.1L1716.2 1429.1L1716.7 1431.4L1717 1454.9L1717.6 1433.4L1717.8 1438.2L1718.1 1434.7L1718.4 1457.5L1718.7 1436.1L1719.2 1437.4L1719.5 1448.9L1719.8 1438.7L1720.1 1443.1L1720.3 1440.1L1720.6 1446.8L1720.9 1444.8" fill="none" stroke="#800000" stroke-width="11" stroke-linejoin="bevel" shape-rendering="crispEdges"/>
<use href="#k14" x="271.5" y="1387.5"/>
<use href="#k14" x="1446.1" y="1325.3"/>
<path d="M771.7 1387.5L792.4 1387.5M828.7 1387.5L844.8 1376.6M844.8 1376.6L859.8 1387.5M859.8 1387.5L873.8 1376.6M873.8 1376.6L887 1378.7M887 1378.7L899.4 1379.1M899.4 1379.1L911.1 1389.2M911.1 1389.2L922.3 1387.5M922.3 1387.5L932.9 1373.7M932.9 1373.7L943 1369.9M943 1369.9L952.6 1369.9M952.6 1369.9L961.9 1379.1M961.9 1379.1L970.7 1386.7M970.7 1386.7L979.3 1377.1M979.3 1377.1L987.5 1369.4M987.5 1369.4L995.4 1365.2M995.4 1365.2L1003 1365.2M1003 1365.2L1010.4 1363.4M1010.4 1363.4L1017.5 1358.7M1017.5 1358.7L1024.4 1360.9M1024.4 1360.9L1031.1 1366.4M1031.1 1366.4L1037.5 1358.7M1037.5 1358.7L1043.8 1357.2M1043.8 1357.2L1055.9 1360.6M1055.9 1360.6L1061.7 1355.2M1061.7 1355.2L1067.4 1354.7M1067.4 1354.7L1072.9 1355.7M1072.9 1355.7L1078.2 1354.2M1078.2 1354.2L1083.4 1354.2M1083.4 1354.2L1088.6 1355.4M1088.6 1355.4L1093.6 1353.5M1093.6 1353.5L1098.4 1354M1098.4 1354L1103.2 1349.5M1103.2 1349.5L1107.9 1350M1107.9 1350L1112.5 1351.2M1112.5 1351.2L1116.9 1348.6M1116.9 1348.6L1121.3 1347.5M1121.3 1347.5L1125.6 1347.5M1125.6 1347.5L1129.8 1349.7M1129.8 1349.7L1134 1349.3M1134 1349.3L1138 1346.9M1138 1346.9L1142 1346M1142 1346L1145.9 1345.6M1145.9 1345.6L1149.8 1347.2M1149.8 1347.2L1153.6 1345.4M1153.6 1345.4L1160.9 1345.2M1160.9 1345.2L1164.5 1344.3L1168.1 1344.2L1175 1345.2L1178.3 1345.1L1181.6 1344L1184.9 1343.8L1188.1 1344.6L1191.3 1343.8L1197.5 1343.1L1200.5 1343.4L1203.5 1342.7L1206.5 1343.9L1212.3 1343L1215.1 1343.8L1223.4 1342.5L1226.1 1343.5L1228.8 1343.6L1236.6 1342.6L1239.1 1343.5L1241.6 1342.7L1244.1 1343.5L1249 1343.8L1251.4 1343.5L1253.8 1343.8L1256.1 1343.4L1258.5 1344.4L1260.8 1343.6L1267.5 1344L1269.7 1345.4L1271.9 1345.2L1274.1 1344.2L1276.2 1345.9L1278.3 1346.1L1280.4 1345.4L1282.5 1346.5L1284.6 1346.7L1286.6 1345.2L1294.6 1346.3L1298.4 1348.3L1300.4 1346.8L1302.3 1348.6L1304.1 1348.9L1306 1348.7L1307.9 1347.7L1309.7 1349.3L1311.5 1348.2L1313.3 1350.2L1315.1 1349L1316.9 1350.8L1318.6 1351.1L1320.4 1350.5L1322.1 1351.7L1323.8 1351.3L1325.5 1350.3L1330.6 1353.3L1332.2 1351.8L1335.5 1352.5L1337.1 1354.7L1338.7 1352.6L1340.3 1355.1L1341.9 1353.5L1345 1354.1L1346.5 1355.4L1349.6 1355.1L1351.1 1356.4L1352.6 1355.2L1354.1 1358L1355.6 1355.9L1357.1 1359.8L1358.5 1357.4L1360 1360.7L1361.4 1357.2L1364.3 1357.9L1365.7 1362.4L1367.1 1358.5L1369.9 1359.2L1371.3 1364.2L1372.6 1359.9L1374 1365.1L1375.4 1362.2L1376.7 1360.9L1378 1366.5L1379.4 1361.6L1380.7 1367.5L1382 1366L1383.3 1368.5L1384.6 1363L1385.9 1369.5L1387.2 1370L1388.4 1370L1389.7 1365.4L1391 1365.1L1392.2 1371.5L1393.5 1371.7L1394.7 1367.9L1397.2 1371.7L1398.4 1370.4L1399.6 1374.8L1400.8 1370.1L1402 1376.5L1403.2 1370L1404.4 1368.5L1405.5 1378.7L1406.7 1372.8L1407.9 1370.8L1409 1370.6L1410.2 1380L1411.3 1373.4L1412.5 1374.1L1413.6 1372L1414.7 1372.7L1417 1373.1L1418.1 1375.1L1419.2 1373.8L1420.3 1374.1L1421.4 1377.8L1422.5 1375.6L1423.6 1375.1L1425.7 1375.8L1427.8 1381.4L1428.9 1376.8L1429.9 1377.1L1432 1382.6L1433.1 1396.5L1434.1 1378.4L1435.1 1378.8L1436.2 1382.2L1437.2 1379.4L1438.2 1384L1439.2 1383.3L1440.2 1380L1442.2 1380.6L1443.2 1384L1444.2 1383.4L1445.1 1381.5L1446.1 1400.1L1447.1 1382L1448.1 1382.8L1449 1395.7L1450 1382.9L1450.9 1394.2L1452.8 1383.7L1453.8 1383.9L1454.7 1385.5L1455.7 1384.4L1457.5 1385.9L1458.4 1433.9L1459.3 1394.5L1460.3 1465L1461.2 1397L1462.1 1387.2L1464.8 1387.8L1465.7 1400.7L1466.6 1388.3L1467.4 1388.5L1468.3 1400.8L1469.2 1388.9L1470.9 1409.6L1471.8 1408.9L1472.7 1389.7L1474.4 1390L1475.3 1392.4L1476.9 1405.5L1477.8 1404.4L1478.6 1399.5L1479.5 1399.8L1480.3 1416.3L1481.1 1400.3L1482 1403.5L1482.8 1442.3L1483.6 1403.5L1484.4 1403.8L1485.2 1401.6L1486.9 1412.7L1488.5 1402.5L1489.3 1402.7L1490.1 1425.2L1490.9 1407.4L1491.7 1399.6L1493.2 1400L1494 1407.3L1494.8 1400.3L1495.6 1458.7L1496.3 1400.6L1497.1 1418.3L1497.9 1421.4L1498.6 1401L1499.4 1401.1L1500.2 1427L1500.9 1410.1L1501.7 1402.8L1502.4 1401.6L1503.2 1403.6L1503.9 1401.8L1504.7 1401.9L1505.4 1418L1506.2 1402.5L1506.9 1410.4L1507.6 1411.7L1508.4 1447.6L1509.1 1402.5L1509.8 1405.6L1510.6 1423.4L1511.3 1405.8L1512 1406.3L1514.9 1406.3L1515.6 1423.7L1516.3 1411.5L1517 1407L1518.4 1406.7L1519.1 1428.3L1519.8 1408.5L1520.5 1425.1L1521.2 1408.6L1523.9 1408.9L1524.6 1456.4L1525.3 1412.5L1525.9 1416.2L1527.3 1409.2L1527.9 1412.2L1528.6 1409.3L1529.3 1409.3L1529.9 1415.1L1530.6 1435.7L1531.3 1415.7L1531.9 1409.5L1533.2 1409.6L1533.9 1422.3L1534.5 1422.2L1535.2 1409.4L1535.8 1425.2L1536.5 1411.3L1537.1 1411.2L1537.7 1409.5L1539 1409.6L1539.7 1413L1540.9 1409.7L1541.5 1409.1L1542.2 1444.4L1542.8 1407.1L1543.4 1407.3L1544 1442.8L1544.7 1407.2L1545.3 1408.1L1545.9 1451.5L1546.5 1407.2L1547.1 1408L1547.7 1407.3L1550.2 1407.3L1550.8 1416.1L1551.4 1407.3L1552 1409.2L1553.8 1409.3L1554.3 1409.8L1554.9 1409.3L1555.5 1409.8L1556.1 1410.5L1556.7 1418.8L1557.3 1409.3L1559 1409.8L1559.6 1442.2L1560.2 1417.3L1560.8 1409.7L1561.3 1409.4L1562.5 1417.6L1563 1402.9L1564.7 1402.9L1565.3 1410.8L1565.9 1412.5L1566.4 1425.3L1567.6 1402.9L1569.2 1402.9L1569.8 1418.5L1570.3 1403L1572.5 1402.9L1573.1 1408.5L1574.1 1408.5L1574.7 1413.2L1575.2 1408.5L1575.7 1414.9L1576.3 1408.5L1577.4 1408.6L1577.9 1404L1581.6 1404.1L1582.1 1404.7L1582.6 1404.1L1583.1 1453.3L1583.6 1404.1L1584.7 1465L1585.2 1404.1L1586.7 1417.5L1587.2 1411.3L1590.8 1411.2L1591.3 1429L1591.8 1411.2L1592.3 1426.4L1592.8 1411.2L1594.7 1411.2L1595.2 1427.5L1595.7 1411.2L1596.2 1465L1597.2 1411.2L1597.7 1411.2L1598.2 1413.3L1598.6 1408.1L1599.1 1412.8L1599.6 1408.1L1600.1 1417.6L1600.6 1408.1L1605.3 1408.1L1605.8 1408.6L1606.2 1453.3L1607.2 1408.6L1608.5 1408.6L1609 1424L1609.5 1409.2L1609.9 1412L1610.8 1408.6L1611.3 1408.6L1611.7 1418.1L1612.7 1405.6L1613.1 1421.5L1613.6 1405.6L1614 1405.6L1614.5 1410.8L1614.9 1405.6L1615.4 1446.9L1615.8 1406.6L1616.2 1410.3L1616.7 1405.6L1617.6 1427.5L1618 1405.6L1618.5 1405.6L1618.9 1410.7L1619.3 1405.6L1620.2 1405.6L1620.7 1431.4L1621.5 1405.6L1622 1405.6L1622.4 1424.5L1622.8 1404.8L1623.3 1404.8L1624.1 1421.7L1624.5 1404.8L1625 1414.9L1625.4 1404.8L1625.8 1405.6L1626.3 1404.8L1627.1 1404.8L1627.5 1410.5L1627.9 1409L1629.6 1409L1630 1427.5L1630.5 1409L1630.9 1410.3L1631.3 1409L1631.7 1409L1632.1 1423.9L1632.5 1411.3L1632.9 1441.4L1633.4 1409.3L1633.8 1409L1634.2 1412.7L1634.6 1409L1635.4 1409L1635.8 1446.4L1636.2 1409L1637 1409.4L1637.4 1409L1637.8 1413.2L1638.2 1436.2L1639 1409L1639.4 1418.3L1639.8 1406.7L1640.2 1409.5L1640.6 1406.7L1641 1406.7L1641.4 1436.1L1642.2 1408.6L1642.6 1408.6L1643 1428.1L1643.4 1408.6L1645 1408.6L1645.4 1425.1L1645.8 1408.6L1646.1 1415.4L1646.5 1409.1L1646.9 1408.6L1647.7 1408.6L1648.1 1405.7L1648.8 1405.7L1649.2 1454.9L1650.4 1405.7L1650.7 1405.7L1651.1 1407.1L1651.5 1413.9L1651.9 1405.7L1652.3 1413.2L1653 1405.7L1654.1 1417.9L1654.5 1405.7L1656 1405.7L1656.4 1409.7L1657.1 1409.7L1657.5 1427.3L1657.8 1409.7L1658.2 1409.7L1658.6 1428.3L1658.9 1409.7L1659.3 1409.7L1659.7 1414.8L1660 1409.7L1660.4 1437.2L1661.1 1409.7L1661.9 1409.7L1662.2 1413.5L1662.6 1409.7L1662.9 1426.8L1663.7 1409.7L1664 1409.7L1664.4 1411.6L1664.7 1409.7L1665.4 1409.7L1665.8 1408.5L1667.6 1408.5L1668.3 1434.6L1668.6 1408.5L1670 1408.5L1670.3 1411.1L1670.7 1427.8L1671.4 1408.5L1671.7 1408.5L1672.1 1421.2L1672.4 1411.5L1672.8 1425.5L1673.4 1403.1L1675.8 1403.1L1676.2 1428.3L1676.5 1403.1L1677.2 1403.1L1677.5 1408L1677.8 1403.1L1678.5 1412.3L1678.9 1403.1L1679.5 1403.1L1679.9 1437.4L1680.2 1403.1L1680.8 1403.1L1681.2 1403.9L1681.5 1403.1L1682.5 1403.1L1683.1 1410.9L1683.5 1408L1684.1 1465L1684.5 1408L1684.8 1417.7L1685.1 1408L1686.7 1408L1687 1408.7L1687.4 1408L1687.7 1422.8L1688 1411.4L1688.3 1410.6L1688.6 1414.2L1689 1408L1689.6 1422.1L1689.9 1409L1690.5 1409L1690.9 1434.1L1691.2 1409L1691.8 1409L1692.1 1403.9L1692.4 1412L1692.7 1403.9L1693.1 1403.9L1693.4 1412.2L1693.7 1403.9L1694.6 1403.9L1694.9 1405L1695.5 1422.4L1696.2 1403.9L1696.5 1403.9L1696.8 1417.8L1697.1 1403.9L1697.4 1403.9L1697.7 1430.1L1698 1403.9L1698.6 1404.6L1698.9 1412.6L1699.2 1408.7L1699.5 1408.7L1700.1 1423.7L1700.4 1408.7L1700.7 1432.8L1701 1408.7L1701.3 1420L1701.6 1408.7L1702.2 1408.7L1702.5 1430.7L1702.8 1412L1703.1 1450.4L1703.4 1406.4L1703.7 1465L1704 1406.4L1704.3 1412.2L1704.6 1406.4L1704.9 1426.2L1705.2 1406.4L1705.5 1407.3L1706.1 1407.3L1706.4 1417.9L1707 1407.3L1707.9 1412.8L1708.2 1410.9L1708.4 1424L1708.7 1412.2L1709 1412.9L1709.3 1428.6L1709.6 1414.2L1709.9 1414.9L1710.2 1444.9L1710.8 1416.9L1711 1421.5L1711.3 1418.3L1711.6 1422.9L1711.9 1419.7L1712.5 1424.7L1712.8 1421.6L1713.1 1423.7L1713.3 1422.9L1713.6 1445.9L1713.9 1424.3L1714.8 1434.2L1715 1463.9L1715.3 1427L1716.2 1429L1716.4 1458.4L1716.7 1430.4L1717.3 1432.9L1717.6 1432.4L1717.8 1433.1L1718.1 1438.5L1718.4 1434.4L1720.1 1438.4L1720.6 1462L1720.9 1450.4" fill="none" stroke="#808000" stroke-width="11" stroke-linejoin="bevel" shape-rendering="crispEdges"/>
<use href="#k16" x="271.5" y="1387.5"/>
<use href="#k16" x="1446.1" y="1400.1"/>
<path d="M792.4 1387.5L811.3 1376.6M873.8 1398.5L887 1398.5M911.1 1387.5L922.3 1376.6M922.3 1376.6L932.9 1387.5M932.9 1387.5L943 1387.5M970.7 1398.5L979.3 1398.5M1010.4 1381.4L1017.5 1396.1M1017.5 1396.1L1024.4 1381.4M1024.4 1381.4L1031.1 1377.1M1031.1 1377.1L1037.5 1391M1050 1404.1L1055.9 1406.5M1055.9 1406.5L1061.7 1406.5M1088.6 1412.9L1093.6 1412.9M1103.2 1409.4L1107.9 1392.1M1107.9 1392.1L1112.5 1398.5M1112.5 1398.5L1116.9 1398.5M1134 1403L1138 1398.5M1138 1398.5L1142 1420.4M1142 1420.4L1145.9 1431.3M1145.9 1431.3L1149.8 1405.9M1149.8 1405.9L1153.6 1409.4M1153.6 1409.4L1157.3 1405.9M1157.3 1405.9L1160.9 1409.4M1168.1 1409.4L1171.5 1431.3L1175 1405.9L1178.3 1405.9L1181.6 1414L1184.9 1398.5L1188.1 1398.5L1191.3 1431.3L1194.4 1413.5L1197.5 1425.2L1200.5 1398.9L1203.5 1410.1L1206.5 1408.2L1209.4 1413.4L1212.3 1399.3L1215.1 1389.9L1217.9 1411.9L1220.7 1418.4L1223.4 1417.8L1226.1 1390.7L1228.8 1398.2L1231.4 1433.9L1234 1400.5L1236.6 1398L1239.1 1409.1L1241.6 1402.2L1244.1 1410.7L1246.6 1448.1L1249 1416L1251.4 1393.4L1253.8 1411.8L1256.1 1412.2L1258.5 1393.2L1260.8 1413L1263 1413.3L1265.3 1393.8L1267.5 1394.4L1269.7 1394.2L1271.9 1443.1L1274.1 1414.5L1276.2 1414.3L1278.3 1394.6L1280.4 1413.8L1284.6 1413.4L1286.6 1429.1L1288.6 1413L1290.6 1421.3L1292.6 1412.5L1294.6 1395.1L1296.5 1426.6L1298.4 1432.4L1300.4 1444.4L1302.3 1442.7L1304.1 1410.9L1306 1403.4L1307.9 1392.3L1309.7 1403.1L1311.5 1392.4L1313.3 1402.9L1315.1 1403.6L1316.9 1424L1318.6 1403.5L1320.4 1402.4L1322.1 1394.8L1323.8 1399.8L1325.5 1417.9L1327.2 1400L1330.6 1440.7L1333.9 1408.8L1335.5 1410.1L1337.1 1434.5L1340.3 1400.8L1341.9 1400.9L1345 1403.7L1346.5 1418.9L1348.1 1414.2L1349.6 1401.4L1351.1 1403L1352.6 1401.6L1354.1 1413.4L1355.6 1396.7L1358.5 1396.8L1360 1420.2L1361.4 1403.7L1362.9 1412.3L1364.3 1397.1L1365.7 1403.4L1367.1 1432.2L1368.5 1397.3L1371.3 1403L1372.6 1403.9L1374 1397.5L1376.7 1408.1L1378 1397.7L1379.4 1412.7L1380.7 1402.5L1383.3 1402.3L1384.6 1397.9L1385.9 1398L1387.2 1402.2L1388.4 1398.1L1389.7 1409.4L1391 1402L1392.2 1401.9L1393.5 1398.3L1394.7 1401.8L1395.9 1398.3L1399.6 1398.5L1402 1404.7L1403.2 1398.6L1404.4 1401.4L1405.5 1417.8L1406.7 1398.7L1407.9 1401.2L1409 1407.1L1410.2 1398.8L1411.3 1406.5L1412.5 1401.1L1413.6 1398.9L1414.7 1398.9L1415.9 1401L1417 1399L1419.2 1403.6L1420.3 1399.1L1421.4 1400.9L1422.5 1408.2L1423.6 1399.1L1424.6 1414L1425.7 1399.2L1427.8 1465L1428.9 1404.8L1429.9 1403L1431 1404.7L1432 1404.7L1433.1 1423.8L1434.1 1407.4L1435.1 1404.6L1436.2 1404.6L1437.2 1403.1L1439.2 1403.2L1440.2 1423.7L1441.2 1403.2L1442.2 1404.5L1443.2 1404.5L1444.2 1403.3L1445.1 1404.4L1446.1 1465L1447.1 1404.4L1448.1 1403.9L1449 1409.4L1450 1404.3L1450.9 1404.3L1451.9 1403.4L1452.8 1400.7L1453.8 1412.7L1454.7 1400.6L1456.6 1400L1460.3 1401.6L1461.2 1400.1L1462.1 1400.6L1463 1436.7L1463.9 1402.6L1464.8 1400.5L1468.3 1400.1L1469.2 1403.8L1470.1 1400.1L1470.9 1420.1L1471.8 1400.5L1472.7 1400.1L1473.5 1417.2L1474.4 1400.5L1475.3 1414.7L1476.9 1400.2L1480.3 1400.4L1481.1 1406.9L1482 1456.9L1482.8 1407.3L1484.4 1407L1485.2 1416.7L1486.1 1407L1486.9 1433.2L1487.7 1407.3L1488.5 1407L1489.3 1417.5L1490.1 1407.2L1490.9 1407.2L1491.7 1403.5L1492.4 1453.5L1494 1403.3L1494.8 1403.5L1495.6 1414.6L1496.3 1403.3L1498.6 1403.3L1499.4 1407.7L1500.2 1447.9L1500.9 1403.4L1501.7 1408.2L1502.4 1423.6L1503.2 1403.4L1504.7 1403.8L1505.4 1418.3L1506.2 1415.2L1506.9 1428L1507.6 1422.1L1508.4 1403.4L1509.1 1403.4L1509.8 1406.9L1510.6 1419.6L1511.3 1410.4L1512 1436.2L1512.7 1403.4L1513.4 1445L1514.1 1403.4L1515.6 1403.4L1516.3 1411.9L1517 1403.5L1519.1 1418.5L1519.8 1408.2L1520.5 1408.8L1521.2 1403.4L1525.3 1403.4L1525.9 1415.3L1526.6 1403.4L1527.3 1409.5L1527.9 1398L1528.6 1409.9L1529.3 1398L1530.6 1411L1531.3 1398L1531.9 1398L1532.6 1401.9L1533.2 1398L1533.9 1398L1534.5 1396.7L1535.2 1411.9L1535.8 1399L1536.5 1402.1L1537.1 1396.7L1538.4 1396.7L1539 1400.1L1539.7 1396.7L1541.5 1396.7L1542.8 1406.7L1543.4 1396.7L1544 1406.2L1544.7 1408.2L1545.3 1396.7L1547.1 1396.7L1547.7 1398.6L1548.3 1396.7L1549 1409.8L1549.6 1396.7L1552 1396.7L1552.6 1409.3L1553.2 1409.3L1553.8 1410.7L1554.3 1409.3L1557.9 1409.3L1558.5 1413.3L1559 1409.3L1559.6 1415.3L1560.2 1409.3L1560.8 1421.5L1561.3 1423.4L1561.9 1409.3L1562.5 1421.3L1563 1409.3L1563.6 1438.7L1564.2 1412.1L1564.7 1409.3L1565.3 1409.3L1565.9 1426.9L1566.4 1409.3L1567.6 1409.3L1568.1 1409.9L1568.7 1440L1569.2 1409.3L1571.4 1409.3L1572 1428.1L1573.1 1409.3L1574.1 1409.3L1574.7 1404.9L1577.4 1404.9L1577.9 1421.3L1578.4 1404.9L1582.1 1404.9L1582.6 1422.1L1583.1 1421.1L1583.6 1427.2L1584.2 1404.9L1584.7 1427.3L1585.2 1404.9L1586.2 1404.9L1586.7 1405.9L1587.2 1465L1587.7 1409.4L1588.3 1404.9L1588.8 1404.9L1589.3 1413.9L1589.8 1404.9L1590.3 1404.9L1590.8 1406.2L1591.3 1404.9L1591.8 1433.7L1592.3 1404.9L1592.8 1407.1L1593.3 1404.9L1593.8 1404.9L1594.2 1446.1L1594.7 1404.9L1595.2 1465L1595.7 1404.9L1596.2 1465L1596.7 1404.9L1599.1 1404.9L1599.6 1415L1600.1 1409.3L1601 1409.3L1601.5 1438.5L1602.5 1409.3L1603.4 1409.3L1603.9 1415.6L1604.4 1409.3L1607.6 1409.3L1608.1 1418.9L1608.5 1409.3L1610.8 1409.3L1611.7 1434.7L1612.2 1409.3L1613.1 1442L1613.6 1409.3L1614 1444.6L1614.5 1411.6L1615.4 1429.5L1615.8 1409.3L1617.1 1409.3L1617.6 1447.3L1618 1409.3L1618.5 1409.3L1618.9 1419L1619.3 1409.3L1619.8 1409.3L1620.2 1415.1L1620.7 1409.5L1621.1 1409.3L1621.5 1427.6L1622 1409.3L1622.4 1419.2L1622.8 1409.3L1624.1 1409.3L1624.5 1424.7L1625 1409.3L1625.4 1420.6L1625.8 1408.7L1626.3 1418.9L1626.7 1408.7L1627.5 1408.7L1628.4 1440.2L1628.8 1423.3L1629.2 1437.3L1629.6 1408.7L1630.5 1408.7L1630.9 1409.3L1631.3 1447.4L1631.7 1412.2L1632.1 1408.7L1633.4 1408.7L1634.2 1422.4L1634.6 1442.2L1635 1408.7L1637 1408.7L1637.4 1416.3L1637.8 1408.7L1638.6 1408.7L1639.4 1444.9L1639.8 1408.7L1640.2 1441.2L1640.6 1430.7L1641 1465L1641.4 1408.7L1641.8 1408.7L1642.2 1401.2L1642.6 1402.1L1643 1429.2L1643.4 1401.2L1645 1401.5L1645.4 1452.7L1645.8 1401.2L1646.1 1402.8L1646.5 1401.2L1646.9 1408.2L1647.3 1401.2L1648.1 1420.6L1648.5 1401.2L1649.6 1401.2L1650 1409L1650.4 1401.2L1650.7 1401.6L1651.1 1398.9L1652.3 1398.9L1652.6 1415.4L1653 1398.9L1653.4 1407L1654.1 1398.9L1654.5 1400.9L1654.9 1423L1655.3 1408.3L1655.6 1414.8L1656 1398.9L1656.4 1398.9L1656.7 1413.2L1657.1 1398.9L1657.5 1398.9L1657.8 1437.5L1658.6 1398.9L1658.9 1403.4L1659.3 1398.9L1659.7 1398.9L1660 1423.1L1660.4 1398.9L1660.8 1398.9L1661.1 1415.6L1661.5 1398.9L1662.2 1398.9L1662.6 1400.5L1662.9 1398.9L1664 1398.9L1664.4 1455.9L1665.4 1396.8L1665.8 1405.3L1666.1 1396.8L1666.8 1396.8L1667.2 1417.6L1667.6 1418.3L1667.9 1399.4L1668.3 1403.7L1668.6 1396.8L1669 1398L1669.3 1396.8L1669.7 1437L1670 1396.8L1673.1 1396.8L1673.4 1441.7L1674.1 1396.8L1674.5 1428.5L1675.5 1396.8L1676.2 1396.8L1676.5 1404L1676.8 1396.8L1678.2 1396.8L1678.5 1405.3L1678.9 1396.8L1680.5 1396.8L1680.8 1411L1681.5 1407.7L1681.8 1407.7L1682.2 1421.4L1682.5 1407.7L1683.8 1407.7L1684.1 1465L1684.5 1407.7L1684.8 1425.8L1685.4 1407.7L1688 1407.7L1688.3 1434.1L1688.6 1407.7L1689.3 1411.1L1689.6 1407.7L1689.9 1419.9L1690.5 1407.7L1690.9 1420.9L1691.2 1420.6L1691.5 1451.4L1691.8 1407.9L1692.1 1407.7L1692.4 1437L1692.7 1407.7L1693.1 1407.7L1693.4 1419.4L1693.7 1407.7L1694.3 1407.7L1694.6 1410.4L1694.9 1395.6L1695.2 1421.9L1695.5 1395.6L1695.9 1430.1L1696.5 1395.6L1696.8 1422.2L1697.1 1395.6L1697.4 1395.6L1697.7 1424L1698 1395.6L1698.3 1395.6L1698.6 1400.5L1698.9 1395.6L1701 1395.6L1701.3 1400.4L1701.9 1395.6L1702.5 1412.8L1702.8 1397.4L1703.1 1419.5L1703.7 1406.6L1706.1 1412.3L1706.4 1422.6L1706.7 1413.3L1707.9 1416L1708.2 1457L1708.7 1418L1709.3 1424.5L1709.6 1420L1710.2 1421.3L1710.5 1429.4L1710.8 1418L1711 1430.9L1711.3 1418.1L1711.9 1423.5L1712.2 1420.1L1712.5 1442.1L1712.8 1421.4L1713.6 1423.5L1713.9 1449.1L1714.2 1424.8L1715.6 1428.1L1715.9 1441.9L1716.2 1429.5L1716.4 1430.1L1716.7 1446.6L1717 1431.5L1717.8 1433.5L1718.1 1449.8L1718.4 1434.8L1718.7 1437.5L1719 1436.2L1719.8 1438.2L1720.1 1465L1720.3 1443.4L1720.6 1444.3L1720.9 1444.1" fill="none" stroke="#2b62a3" stroke-width="11" stroke-linejoin="bevel" shape-rendering="crispEdges"/>
<use href="#k18" x="271.5" y="1387.5"/>
<path d="M510.2 1387.5L572.7 1387.5M792.4 1376.6L811.3 1376.6M811.3 1376.6L828.7 1387.5M828.7 1387.5L844.8 1387.5M887 1387.5L899.4 1387.5M899.4 1387.5L911.1 1398.5M911.1 1398.5L932.9 1376.6M932.9 1376.6L943 1381.1M943 1381.1L952.6 1398.5M970.7 1387.5L979.3 1381.1M979.3 1381.1L987.5 1376.6M987.5 1376.6L995.4 1398.5M1024.4 1409.4L1031.1 1376.6M1031.1 1376.6L1037.5 1387.5M1037.5 1387.5L1043.8 1408.2M1043.8 1408.2L1050 1391M1050 1391L1055.9 1384M1055.9 1384L1067.4 1408.2M1067.4 1408.2L1072.9 1406.5M1072.9 1406.5L1078.2 1400.1M1078.2 1400.1L1083.4 1389.2M1083.4 1389.2L1093.6 1382.2M1093.6 1382.2L1098.4 1381.1M1098.4 1381.1L1103.2 1378.7M1103.2 1378.7L1107.9 1384M1107.9 1384L1112.5 1403M1112.5 1403L1116.9 1409.4M1116.9 1409.4L1121.3 1387.5M1121.3 1387.5L1125.6 1378.7M1125.6 1378.7L1129.8 1403M1129.8 1403L1134 1381.1M1134 1381.1L1142 1381.1M1142 1381.1L1145.9 1400.6M1145.9 1400.6L1149.8 1409.4M1149.8 1409.4L1153.6 1387.5M1153.6 1387.5L1157.3 1398.5M1157.3 1398.5L1160.9 1383.2M1160.9 1383.2L1164.5 1383.2L1168.1 1384L1171.5 1390.8L1175 1390.8L1178.3 1409.4L1181.6 1392.1L1184.9 1386.6L1188.1 1386.6M1194.4 1394.5L1197.5 1416.3L1200.5 1392.2L1203.5 1404.6L1206.5 1426.7L1209.4 1392.9L1212.3 1434.8L1215.1 1395.8L1217.9 1402.6L1220.7 1429.5L1223.4 1431.9L1226.1 1394.2L1228.8 1399.5L1231.4 1399.8L1234 1395.3L1236.6 1414.9L1239.1 1397.8L1241.6 1406.8L1244.1 1397.5L1246.6 1450L1249 1465L1251.4 1396.9L1256.1 1397.3L1258.5 1400L1260.8 1397.8L1263 1416.1L1265.3 1398.5L1267.5 1398.8L1269.7 1428L1271.9 1399.2L1290.6 1399.2L1292.6 1426.1L1294.6 1391.2L1296.5 1405.7L1298.4 1391.2L1300.4 1412.3L1302.3 1416.8L1304.1 1391.2L1306 1419.2L1307.9 1392.4L1309.7 1391.1L1311.5 1429.1L1313.3 1391.1L1318.6 1391.2L1320.4 1441.2L1322.1 1391.1L1323.8 1397.6L1325.5 1391.1L1338.7 1391.2L1340.3 1448.5L1341.9 1391.2L1343.4 1391.2L1345 1397L1346.5 1389.8L1348.1 1417.3L1351.1 1389.7L1352.6 1394.3L1354.1 1389.8L1355.6 1389.7L1357.1 1413.1L1358.5 1389.7L1367.1 1389.7L1368.5 1404.1L1369.9 1389.7L1371.3 1455.9L1372.6 1400.6L1374 1389.7L1375.4 1389.7L1376.7 1391.7L1378 1402.3L1379.4 1389.7L1383.3 1389.7L1384.6 1398.2L1385.9 1389.7L1387.2 1395.7L1388.4 1389.7L1389.7 1402.3L1391 1401.4L1393.5 1401.5L1394.7 1418.5L1395.9 1401.5L1397.2 1420.3L1398.4 1405.2L1399.6 1401.4L1403.2 1401.4L1404.4 1406.6L1405.5 1404.7L1406.7 1422.7L1407.9 1401.5L1409 1412.7L1410.2 1401.5L1417 1401.5L1418.1 1465L1419.2 1423.7L1420.3 1401.5L1423.6 1401.5L1424.6 1396.8L1426.8 1396.7L1427.8 1411.2L1429.9 1396.7L1431 1418.4L1432 1411L1433.1 1396.8L1435.1 1396.8L1436.2 1405.3L1437.2 1396.8L1438.2 1423.1L1439.2 1396.8L1440.2 1404.7L1441.2 1405.2L1442.2 1396.7L1443.2 1418.2L1444.2 1396.7L1445.1 1396.7L1446.1 1408.2L1447.1 1396.7L1448.1 1406.1L1449 1398L1450 1396.7L1456.6 1396.7L1457.5 1404.7L1458.4 1396.7L1459.3 1421.9L1460.3 1397L1461.2 1423.9L1462.1 1396.7L1463 1408.8L1463.9 1396.7L1464.8 1403.3L1465.7 1396.7L1466.6 1399L1467.4 1396.7L1469.2 1396.7L1470.1 1432.7L1470.9 1403.7L1471.8 1396.7L1472.7 1407.4L1473.5 1399.9L1474.4 1396.7L1476.9 1396.7L1477.8 1416.7L1478.6 1396.7L1479.5 1402.4L1480.3 1396.7L1481.1 1400.5L1482 1396.7L1483.6 1396.7L1485.2 1409.5L1486.1 1396.7L1486.9 1396.7L1487.7 1416.3L1488.5 1396.7L1489.3 1390.9L1493.2 1390.9L1494 1396.5L1494.8 1390.9L1495.6 1390.9L1496.3 1418.7L1497.1 1390.9L1497.9 1395.8L1498.6 1390.9L1499.4 1401.9L1500.2 1390.9L1500.9 1400.3L1501.7 1390.9L1502.4 1390.9L1503.2 1392.7L1503.9 1401.2L1504.7 1390.9L1506.2 1390.9L1507.6 1415.2L1508.4 1418.2L1509.8 1390.9L1512 1390.9L1512.7 1391.6L1513.4 1390.9L1514.1 1395.2L1514.9 1390.9L1517 1390.9L1517.7 1402.4L1521.2 1402L1522.5 1444.1L1523.2 1436.3L1523.9 1402L1524.6 1404.7L1525.3 1413.3L1525.9 1402L1527.9 1402L1529.3 1389.6L1530.6 1389.6L1531.3 1392.5L1531.9 1389.6L1532.6 1389.6L1533.2 1410L1533.9 1389.6L1535.2 1389.6L1535.8 1417.9L1536.5 1389.6L1537.1 1407.2L1537.7 1389.6L1539 1389.6L1539.7 1410.8L1540.3 1389.6L1540.9 1389.6L1541.5 1405.8L1542.2 1389.6L1542.8 1389.6L1543.4 1390.3L1544 1389.6L1544.7 1392.6L1545.3 1393.2L1545.9 1389.6L1546.5 1389.6L1547.1 1427.6L1547.7 1391L1548.3 1389.6L1549 1410.5L1550.2 1389.6L1551.4 1389.6L1552 1423.7L1552.6 1412.3L1553.2 1419.8L1553.8 1397.6L1554.9 1397.6L1556.1 1409.4L1556.7 1397.6L1557.3 1443.9L1557.9 1407.5L1558.5 1397.6L1559.6 1397.6L1560.2 1427.6L1560.8 1397.6L1566.4 1397.6L1567 1420.2L1567.6 1397.6L1568.1 1408.9L1568.7 1397.6L1569.2 1407.9L1569.8 1397.6L1570.9 1397.6L1571.4 1403.7L1572 1397.6L1572.5 1397.6L1573.1 1400.7L1573.6 1397.6L1575.2 1397.6L1575.7 1412.6L1576.3 1397.6L1577.4 1397.6L1577.9 1399.9L1578.4 1436.3L1578.9 1402.3L1579.5 1397.6L1580 1405.3L1580.5 1404.9L1581 1397.6L1582.1 1397.6L1582.6 1414.2L1583.1 1397.6L1583.6 1408.4L1584.2 1397.6L1585.2 1397.6L1585.7 1417.7L1586.2 1397.6L1587.2 1397.6L1587.7 1400.1L1588.3 1397.6L1588.8 1397.6L1589.3 1401.2L1589.8 1397.6L1593.3 1397.6L1593.8 1408.3L1594.2 1397.6L1594.7 1397.6L1595.2 1423.5L1595.7 1397.6L1596.2 1420.2L1596.7 1415.6L1597.2 1435.6L1597.7 1393.1L1598.6 1393.1L1599.1 1465L1599.6 1393.1L1600.1 1399L1600.6 1393.1L1601 1393.1L1601.5 1405.7L1602 1393.1L1602.5 1399.9L1602.9 1393.1L1603.4 1400.8L1603.9 1393.1L1604.4 1394L1604.8 1407.8L1605.3 1398.3L1606.2 1393.1L1606.7 1395.1L1607.2 1393.1L1608.5 1393.1L1609 1423.1L1609.5 1397.9L1609.9 1393.1L1610.8 1425L1611.3 1393.1L1613.1 1393.1L1613.6 1464L1614 1393.1L1614.9 1393.1L1615.4 1399.5L1615.8 1393.1L1616.2 1395.1L1617.1 1395.1L1617.6 1428.8L1618.5 1395.1L1619.3 1395.1L1619.8 1412L1620.2 1395.1L1620.7 1403.1L1621.1 1395.1L1621.5 1395.1L1622 1409.5L1622.8 1395.1L1623.3 1400.5L1623.7 1395.1L1627.5 1395.1L1627.9 1412.8L1628.4 1395.1L1629.2 1395.1L1629.6 1396.3L1630 1395.1L1631.7 1395.1L1632.1 1405.5L1632.9 1395.1L1635 1395.1L1635.4 1413.5L1635.8 1395.6L1637 1395.1L1637.4 1398.5L1637.8 1396.9L1638.2 1465L1638.6 1395.1L1639 1405.6L1639.4 1395.1L1639.8 1416.9L1640.2 1395.1L1642.2 1395.1L1643 1400.9L1643.4 1465L1644.2 1395.1L1644.6 1395.1L1645 1424.8L1645.4 1398.7L1646.1 1395.1L1647.3 1395.1L1647.7 1406.9L1648.1 1395.1L1648.5 1457.7L1648.8 1395.5L1649.2 1395.5L1649.6 1397.8L1650 1407.4L1650.7 1395.5L1651.1 1395.5L1651.5 1402.2L1651.9 1395.5L1652.3 1395.5L1652.6 1409.5L1653 1395.5L1653.4 1395.5L1653.8 1429.5L1654.5 1395.5L1654.9 1426.2L1655.3 1399.7L1656 1403.4L1656.4 1451.7L1656.7 1404.4L1657.1 1428.9L1657.5 1401.6L1657.8 1401.6L1658.2 1411.9L1658.6 1401.6L1658.9 1431.1L1659.7 1402.9L1660 1401.6L1660.4 1465L1660.8 1401.6L1661.1 1409.9L1661.9 1401.6L1662.6 1416.7L1662.9 1401.6L1664 1401.6L1664.4 1413.2L1664.7 1401.6L1665.1 1401.6L1665.4 1403.6L1665.8 1401.6L1666.1 1404.7L1666.5 1401.6L1667.2 1401.6L1667.9 1394.4L1668.3 1406.8L1668.6 1394.4L1669 1394.4L1669.3 1409.7L1670 1394.4L1670.3 1424.5L1670.7 1394.4L1671 1462.4L1671.4 1415.5L1671.7 1420.9L1672.1 1394.4L1674.1 1394.4L1674.5 1407.5L1674.8 1394.4L1675.2 1432.5L1675.5 1394.4L1676.5 1394.4L1676.8 1445.8L1677.8 1394.4L1678.2 1397.9L1678.5 1394.4L1679.2 1464.8L1679.5 1394.4L1679.9 1394.4L1680.2 1401.4L1680.5 1394.4L1680.8 1409.6L1681.2 1394.4L1681.8 1395.7L1682.2 1394.4L1682.8 1394.4L1683.1 1402.3L1683.5 1394.4L1683.8 1394.6L1684.1 1422.7L1684.5 1394.4L1685.4 1394.4L1685.8 1429L1686.1 1429.7L1686.7 1391.7L1687.4 1391.7L1687.7 1409.7L1688 1394.7L1688.3 1410.9L1689 1391.7L1689.6 1411.9L1689.9 1391.7L1690.2 1391.7L1690.5 1395.6L1690.9 1391.7L1691.2 1427.6L1691.5 1391.7L1692.1 1391.7L1692.4 1393L1692.7 1389.5L1693.1 1400.1L1693.4 1389.5L1694 1408L1694.3 1389.5L1694.9 1389.5L1695.2 1433.7L1695.5 1395.8L1696.2 1389.5L1697.1 1389.5L1697.7 1404.3L1698 1441L1698.3 1389.5L1698.6 1393.2L1698.9 1389.5L1699.2 1393.3L1699.5 1389.5L1699.8 1428.8L1700.1 1389.5L1701.6 1389.5L1701.9 1394.5L1702.2 1389.9L1702.5 1409.3L1702.8 1391.8L1703.4 1412.4L1703.7 1393.2L1704.3 1401.2L1704.6 1395.2L1705.5 1397.2L1705.8 1423.4L1706.1 1398.6L1706.4 1399.3L1706.7 1430.8L1707.3 1401.3L1708.2 1424L1708.4 1403.9L1709 1424.5L1709.3 1406L1709.6 1406.6L1709.9 1434.5L1710.2 1419L1710.5 1465L1710.8 1409.3L1711.3 1441.8L1711.6 1411.7L1712.2 1412.7L1712.8 1439.7L1713.1 1427.9L1713.3 1465L1713.6 1448.1L1713.9 1465L1714.2 1430.6L1714.8 1452.3L1715.3 1433.2L1715.9 1453L1716.2 1435.2L1717.6 1438.6L1717.8 1465L1718.4 1440.6L1718.7 1443.6L1719 1441.9L1719.2 1461.9L1719.8 1437.2L1720.9 1439.9" fill="none" stroke="#1e9696" stroke-width="11" stroke-linejoin="bevel" shape-rendering="crispEdges"/>
<use href="#k20" x="271.5" y="1387.5"/>
<use href="#k20" x="1446.1" y="1408.2"/>
<use href="#k20" x="1596.2" y="1420.2"/>
<use href="#k20" x="1684.1" y="1422.7"/>
</g>
<g>
<text transform="translate(0 645.2) scale(1 1.06)" x="170.5 193 227.5" y="0" font-size="57" text-anchor="middle" stroke="#fff" stroke-width="1.0">0.0</text>
<text transform="translate(0 536.2) scale(1 1.06)" x="170.5 193 227.5" y="0" font-size="57" text-anchor="middle" stroke="#fff" stroke-width="1.0">0.2</text>
<text transform="translate(0 427.2) scale(1 1.06)" x="170.5 193 227.5" y="0" font-size="57" text-anchor="middle" stroke="#fff" stroke-width="1.0">0.4</text>
<text transform="translate(0 318.2) scale(1 1.06)" x="170.5 193 227.5" y="0" font-size="57" text-anchor="middle" stroke="#fff" stroke-width="1.0">0.6</text>
<text transform="translate(0 209.2) scale(1 1.06)" x="170.5 193 227.5" y="0" font-size="57" text-anchor="middle" stroke="#fff" stroke-width="1.0">0.8</text>
<text transform="translate(0 100.2) scale(1 1.06)" x="170.5 193 227.5" y="0" font-size="57" text-anchor="middle" stroke="#fff" stroke-width="1.0">1.0</text>
<text transform="translate(0 1502.9) scale(1 1.06)" x="242.3 264.8 299.3" y="0" font-size="57" text-anchor="middle" stroke="#fff" stroke-width="1.0">0.1</text>
<text transform="translate(0 1502.9) scale(1 1.06)" x="771" y="0" font-size="57" text-anchor="middle" stroke="#fff" stroke-width="1.0">1</text>
<text transform="translate(0 1502.9) scale(1 1.06)" x="1257 1285.5" y="0" font-size="57" text-anchor="middle" stroke="#fff" stroke-width="1.0">10</text>
<text transform="translate(0 1502.9) scale(1 1.06)" x="1742.9 1771.4 1799.9" y="0" font-size="57" text-anchor="middle" stroke="#fff" stroke-width="1.0">100</text>
<text transform="translate(0 1502.9) scale(1 1.06)" x="2228.9 2257.4 2285.9 2314.4" y="0" font-size="57" text-anchor="middle" stroke="#fff" stroke-width="1.0">1000</text>
<text transform="translate(0 871) scale(1 1.06)" x="165.6 194.1" y="0" font-size="57" text-anchor="middle" stroke="#fff" stroke-width="1.0">10</text>
<text transform="translate(0 843.2) scale(1 1.06)" x="217.4 234.7" y="0" font-size="34.5" text-anchor="middle" stroke="#fff" stroke-width="0.6">−1</text>
<text transform="translate(0 1016) scale(1 1.06)" x="165.6 194.1" y="0" font-size="57" text-anchor="middle" stroke="#fff" stroke-width="1.0">10</text>
<text transform="translate(0 988.2) scale(1 1.06)" x="217.4 234.7" y="0" font-size="34.5" text-anchor="middle" stroke="#fff" stroke-width="0.6">−5</text>
<text transform="translate(0 1162) scale(1 1.06)" x="165.6 194.1" y="0" font-size="57" text-anchor="middle" stroke="#fff" stroke-width="1.0">10</text>
<text transform="translate(0 1134.2) scale(1 1.06)" x="217.4 234.7" y="0" font-size="34.5" text-anchor="middle" stroke="#fff" stroke-width="0.6">−9</text>
<text transform="translate(0 1307) scale(1 1.06)" x="148.3 176.8" y="0" font-size="57" text-anchor="middle" stroke="#fff" stroke-width="1.0">10</text>
<text transform="translate(0 1279.2) scale(1 1.06)" x="200.2 217.4 234.7" y="0" font-size="34.5" text-anchor="middle" stroke="#fff" stroke-width="0.6">−13</text>
<text transform="translate(0 1453) scale(1 1.06)" x="148.3 176.8" y="0" font-size="57" text-anchor="middle" stroke="#fff" stroke-width="1.0">10</text>
<text transform="translate(0 1425.2) scale(1 1.06)" x="200.2 217.4 234.7" y="0" font-size="34.5" text-anchor="middle" stroke="#fff" stroke-width="0.6">−17</text>
</g>
<text transform="translate(108.75 396) rotate(-90)" font-size="70" text-anchor="middle">Spectral radius</text>
<text transform="translate(85 1146) rotate(-90)" font-size="69.4" text-anchor="middle">Absolute errors</text>
<text class="it" transform="translate(1270.9 1609.3) skewX(-14) scale(1.07 1.0)" font-size="72" text-anchor="middle">τ</text>
<g>
<rect x="1654" y="48" width="590" height="428" fill="#fff" stroke="#000" stroke-width="2" shape-rendering="crispEdges"/>
<path d="M1683 96.5h123" stroke="#000000" stroke-width="11" fill="none" shape-rendering="crispEdges"/>
<use href="#kex" x="1744.5" y="96.5"/>
<text x="1819" y="113.2" font-size="54">Exact</text>
<path d="M1955 96.5h123" stroke="#ff0000" stroke-width="11" fill="none" shape-rendering="crispEdges"/>
<use href="#k0" x="2016.5" y="96.5"/>
<text x="2092" y="113.2" font-size="54"><tspan class="it">m</tspan>=0</text>
<path d="M1683 162.5h123" stroke="#0000ff" stroke-width="11" fill="none" shape-rendering="crispEdges"/>
<use href="#k2" x="1744.5" y="162.5"/>
<text x="1820" y="179.5" font-size="54"><tspan class="it">m</tspan>=2</text>
<path d="M1929 162.5h123" stroke="#ff00ff" stroke-width="11" fill="none" shape-rendering="crispEdges"/>
<use href="#k4" x="1990.5" y="162.5"/>
<text x="2066" y="179.5" font-size="54"><tspan class="it">m</tspan>=4</text>
<path d="M1683 228.5h123" stroke="#008000" stroke-width="11" fill="none" shape-rendering="crispEdges"/>
<use href="#k6" x="1744.5" y="228.5"/>
<text x="1820" y="245.8" font-size="54"><tspan class="it">m</tspan>=6</text>
<path d="M1929 228.5h123" stroke="#000080" stroke-width="11" fill="none" shape-rendering="crispEdges"/>
<use href="#k8" x="1990.5" y="228.5"/>
<text x="2066" y="245.8" font-size="54"><tspan class="it">m</tspan>=8</text>
<path d="M1683 295h123" stroke="#8000ff" stroke-width="11" fill="none" shape-rendering="crispEdges"/>
<use href="#k10" x="1744.5" y="295"/>
<text x="1820" y="312.1" font-size="54"><tspan class="it">m</tspan>=10</text>
<path d="M1955 295h123" stroke="#800080" stroke-width="11" fill="none" shape-rendering="crispEdges"/>
<use href="#k12" x="2016.5" y="295"/>
<text x="2092" y="312.1" font-size="54"><tspan class="it">m</tspan>=12</text>
<path d="M1683 361.5h123" stroke="#800000" stroke-width="11" fill="none" shape-rendering="crispEdges"/>
<use href="#k14" x="1744.5" y="361.5"/>
<text x="1820" y="378.4" font-size="54"><tspan class="it">m</tspan>=14</text>
<path d="M1955 361.5h123" stroke="#808000" stroke-width="11" fill="none" shape-rendering="crispEdges"/>
<use href="#k16" x="2016.5" y="361.5"/>
<text x="2092" y="378.4" font-size="54"><tspan class="it">m</tspan>=16</text>
<path d="M1683 427.5h123" stroke="#2b62a3" stroke-width="11" fill="none" shape-rendering="crispEdges"/>
<use href="#k18" x="1744.5" y="427.5"/>
<text x="1820" y="444.7" font-size="54"><tspan class="it">m</tspan>=18</text>
<path d="M1955 427.5h123" stroke="#1e9696" stroke-width="11" fill="none" shape-rendering="crispEdges"/>
<use href="#k20" x="2016.5" y="427.5"/>
<text x="2092" y="444.7" font-size="54"><tspan class="it">m</tspan>=20</text>
</g>
</svg></body></html>
